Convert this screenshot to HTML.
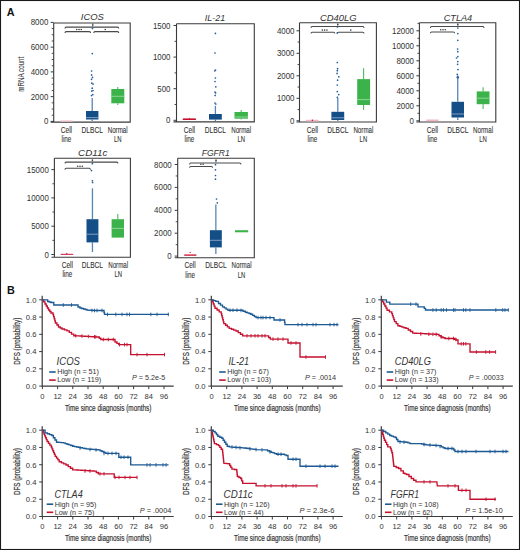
<!DOCTYPE html><html><head><meta charset="utf-8"><style>html,body{margin:0;padding:0;background:#fff;}svg{display:block;}text{font-family:"Liberation Sans",sans-serif;}.b{stroke:currentColor;stroke-width:0.1px;}.bb{stroke:currentColor;stroke-width:0.2px;}</style></head><body>
<svg width="520" height="550" viewBox="0 0 520 550">
<rect x="0" y="0" width="520" height="550" fill="#fff"/>
<rect x="0.5" y="0.5" width="519" height="549" fill="none" stroke="#1a1a1a" stroke-width="1.1"/>
<text x="6.8" y="16.0" font-size="10.8" text-anchor="start" font-weight="bold" fill="#111" color="#111">A</text>
<text x="7.0" y="293.6" font-size="10.8" text-anchor="start" font-weight="bold" fill="#111" color="#111">B</text>
<text transform="translate(24.3,74.2) rotate(-90)" font-size="8.2" text-anchor="middle" textLength="35" lengthAdjust="spacingAndGlyphs" class="b" fill="#333" color="#333">mRNA count</text>
<path d="M53.7 23.0 H130.2 V122.1 H50.7 M53.7 23.0 V122.1" fill="none" stroke="#3a3a3a" stroke-width="1.1"/>
<line x1="50.7" y1="121.4" x2="53.7" y2="121.4" stroke="#3a3a3a" stroke-width="1"/>
<text x="48.3" y="124.4" font-size="8.6" text-anchor="end" textLength="4.4" lengthAdjust="spacingAndGlyphs" fill="#333" color="#333">0</text>
<line x1="50.7" y1="96.65" x2="53.7" y2="96.65" stroke="#3a3a3a" stroke-width="1"/>
<text x="48.3" y="99.65" font-size="8.6" text-anchor="end" textLength="17.6" lengthAdjust="spacingAndGlyphs" fill="#333" color="#333">2000</text>
<line x1="50.7" y1="71.9" x2="53.7" y2="71.9" stroke="#3a3a3a" stroke-width="1"/>
<text x="48.3" y="74.9" font-size="8.6" text-anchor="end" textLength="17.6" lengthAdjust="spacingAndGlyphs" fill="#333" color="#333">4000</text>
<line x1="50.7" y1="47.15" x2="53.7" y2="47.15" stroke="#3a3a3a" stroke-width="1"/>
<text x="48.3" y="50.15" font-size="8.6" text-anchor="end" textLength="17.6" lengthAdjust="spacingAndGlyphs" fill="#333" color="#333">6000</text>
<line x1="50.7" y1="22.4" x2="53.7" y2="22.4" stroke="#3a3a3a" stroke-width="1"/>
<text x="48.3" y="25.4" font-size="8.6" text-anchor="end" textLength="17.6" lengthAdjust="spacingAndGlyphs" fill="#333" color="#333">8000</text>
<line x1="51.7" y1="115.21" x2="53.7" y2="115.21" stroke="#3a3a3a" stroke-width="0.9"/>
<line x1="51.7" y1="109.03" x2="53.7" y2="109.03" stroke="#3a3a3a" stroke-width="0.9"/>
<line x1="51.7" y1="102.84" x2="53.7" y2="102.84" stroke="#3a3a3a" stroke-width="0.9"/>
<line x1="51.7" y1="90.46" x2="53.7" y2="90.46" stroke="#3a3a3a" stroke-width="0.9"/>
<line x1="51.7" y1="84.28" x2="53.7" y2="84.28" stroke="#3a3a3a" stroke-width="0.9"/>
<line x1="51.7" y1="78.09" x2="53.7" y2="78.09" stroke="#3a3a3a" stroke-width="0.9"/>
<line x1="51.7" y1="65.71" x2="53.7" y2="65.71" stroke="#3a3a3a" stroke-width="0.9"/>
<line x1="51.7" y1="59.53" x2="53.7" y2="59.53" stroke="#3a3a3a" stroke-width="0.9"/>
<line x1="51.7" y1="53.34" x2="53.7" y2="53.34" stroke="#3a3a3a" stroke-width="0.9"/>
<line x1="51.7" y1="40.96" x2="53.7" y2="40.96" stroke="#3a3a3a" stroke-width="0.9"/>
<line x1="51.7" y1="34.78" x2="53.7" y2="34.78" stroke="#3a3a3a" stroke-width="0.9"/>
<line x1="51.7" y1="28.59" x2="53.7" y2="28.59" stroke="#3a3a3a" stroke-width="0.9"/>
<text x="92.35" y="20.3" font-size="9.1" text-anchor="middle" font-style="italic" textLength="23.1" lengthAdjust="spacingAndGlyphs" fill="#333" color="#333">ICOS</text>
<text x="66.4" y="132.7" font-size="9" text-anchor="middle" textLength="11.3" lengthAdjust="spacingAndGlyphs" fill="#333" color="#333" class="b">Cell</text>
<text x="66.4" y="142.0" font-size="9" text-anchor="middle" textLength="9.8" lengthAdjust="spacingAndGlyphs" fill="#333" color="#333" class="b">line</text>
<text x="92.2" y="132.7" font-size="9" text-anchor="middle" textLength="21.3" lengthAdjust="spacingAndGlyphs" fill="#333" color="#333" class="b">DLBCL</text>
<text x="117.7" y="132.7" font-size="9" text-anchor="middle" textLength="20" lengthAdjust="spacingAndGlyphs" fill="#333" color="#333" class="b">Normal</text>
<text x="117.7" y="142.0" font-size="9" text-anchor="middle" textLength="7.6" lengthAdjust="spacingAndGlyphs" fill="#333" color="#333" class="b">LN</text>
<path d="M65 28.5 Q65 27.1 66.2 27.1 H117.55 Q118.75 27.1 118.75 28.5" fill="none" stroke="#4a4a4a" stroke-width="1.05"/>
<line x1="92.75" y1="23.0" x2="92.75" y2="27.1" stroke="#777" stroke-width="0.8"/>
<circle cx="92.75" cy="25.05" r="0.8" fill="#444"/>
<path d="M65 33.0 Q65 31.6 66.2 31.6 H89.4 Q90.6 31.6 90.6 33.0" fill="none" stroke="#4a4a4a" stroke-width="1.05"/>
<circle cx="76.70" cy="29.50" r="0.8" fill="#3a3a3a"/>
<circle cx="79.00" cy="29.50" r="0.8" fill="#3a3a3a"/>
<circle cx="81.30" cy="29.50" r="0.8" fill="#3a3a3a"/>
<path d="M93.75 33.0 Q93.75 31.6 94.95 31.6 H117.55 Q118.75 31.6 118.75 33.0" fill="none" stroke="#4a4a4a" stroke-width="1.05"/>
<circle cx="105.25" cy="29.50" r="0.8" fill="#3a3a3a"/>
<rect x="60.1" y="120.35" width="12.6" height="1.3" fill="#f6c4d0"/>
<line x1="92.2" y1="98" x2="92.2" y2="111" stroke="#5686b6" stroke-width="1.3"/>
<line x1="92.2" y1="119.5" x2="92.2" y2="121" stroke="#5686b6" stroke-width="1.3"/>
<rect x="86" y="111" width="12.4" height="8.5" fill="#134e87"/>
<line x1="86" y1="117.6" x2="98.4" y2="117.6" stroke="#7f9fc2" stroke-width="1"/>
<line x1="117.8" y1="87" x2="117.8" y2="89" stroke="#3cb34a" stroke-width="1.0"/>
<line x1="117.8" y1="103.3" x2="117.8" y2="105" stroke="#3cb34a" stroke-width="1.0"/>
<rect x="111.3" y="89" width="13.0" height="14.3" fill="#3cb34a"/>
<line x1="111.3" y1="96.3" x2="124.3" y2="96.3" stroke="#8fd496" stroke-width="1"/>
<circle cx="92.5" cy="28.4" r="0.85" fill="#245d9c"/>
<circle cx="92.3" cy="53.6" r="0.85" fill="#245d9c"/>
<circle cx="91.6" cy="71" r="0.85" fill="#245d9c"/>
<circle cx="91.6" cy="74.9" r="0.85" fill="#245d9c"/>
<circle cx="92.5" cy="77.4" r="0.85" fill="#245d9c"/>
<circle cx="91.5" cy="79.3" r="0.85" fill="#245d9c"/>
<circle cx="91.8" cy="83.2" r="0.85" fill="#245d9c"/>
<circle cx="93" cy="84.1" r="0.85" fill="#245d9c"/>
<circle cx="92.2" cy="88.2" r="0.85" fill="#245d9c"/>
<circle cx="91.8" cy="91.1" r="0.85" fill="#245d9c"/>
<circle cx="93" cy="90.5" r="0.85" fill="#245d9c"/>
<circle cx="91.5" cy="95.6" r="0.85" fill="#245d9c"/>
<circle cx="92.8" cy="94.6" r="0.85" fill="#245d9c"/>
<path d="M176.5 23.7 H254.3 V121.9 H173.5 M176.5 23.7 V121.9" fill="none" stroke="#3a3a3a" stroke-width="1.1"/>
<line x1="173.5" y1="120.3" x2="176.5" y2="120.3" stroke="#3a3a3a" stroke-width="1"/>
<text x="170.5" y="123.3" font-size="8.6" text-anchor="end" textLength="4.4" lengthAdjust="spacingAndGlyphs" fill="#333" color="#333">0</text>
<line x1="173.5" y1="88.7" x2="176.5" y2="88.7" stroke="#3a3a3a" stroke-width="1"/>
<text x="170.5" y="91.7" font-size="8.6" text-anchor="end" textLength="13.2" lengthAdjust="spacingAndGlyphs" fill="#333" color="#333">500</text>
<line x1="173.5" y1="57.1" x2="176.5" y2="57.1" stroke="#3a3a3a" stroke-width="1"/>
<text x="170.5" y="60.1" font-size="8.6" text-anchor="end" textLength="17.6" lengthAdjust="spacingAndGlyphs" fill="#333" color="#333">1000</text>
<line x1="173.5" y1="25.5" x2="176.5" y2="25.5" stroke="#3a3a3a" stroke-width="1"/>
<text x="170.5" y="28.5" font-size="8.6" text-anchor="end" textLength="17.6" lengthAdjust="spacingAndGlyphs" fill="#333" color="#333">1500</text>
<line x1="174.5" y1="104.5" x2="176.5" y2="104.5" stroke="#3a3a3a" stroke-width="0.9"/>
<line x1="174.5" y1="72.9" x2="176.5" y2="72.9" stroke="#3a3a3a" stroke-width="0.9"/>
<line x1="174.5" y1="41.3" x2="176.5" y2="41.3" stroke="#3a3a3a" stroke-width="0.9"/>
<text x="214.95" y="20.6" font-size="9.1" text-anchor="middle" font-style="italic" textLength="20.3" lengthAdjust="spacingAndGlyphs" fill="#333" color="#333">IL-21</text>
<text x="189.4" y="132.5" font-size="9" text-anchor="middle" textLength="11.3" lengthAdjust="spacingAndGlyphs" fill="#333" color="#333" class="b">Cell</text>
<text x="189.4" y="141.8" font-size="9" text-anchor="middle" textLength="9.8" lengthAdjust="spacingAndGlyphs" fill="#333" color="#333" class="b">line</text>
<text x="215.4" y="132.5" font-size="9" text-anchor="middle" textLength="21.3" lengthAdjust="spacingAndGlyphs" fill="#333" color="#333" class="b">DLBCL</text>
<text x="241.2" y="132.5" font-size="9" text-anchor="middle" textLength="20" lengthAdjust="spacingAndGlyphs" fill="#333" color="#333" class="b">Normal</text>
<text x="241.2" y="141.8" font-size="9" text-anchor="middle" textLength="7.6" lengthAdjust="spacingAndGlyphs" fill="#333" color="#333" class="b">LN</text>
<rect x="182.8" y="118.4" width="13.1" height="1.6" fill="#c8102e"/>
<circle cx="189.4" cy="118.3" r="0.55" fill="#c8102e"/>
<line x1="215.4" y1="105.9" x2="215.4" y2="114" stroke="#5686b6" stroke-width="1.3"/>
<line x1="215.4" y1="119.6" x2="215.4" y2="121" stroke="#5686b6" stroke-width="1.3"/>
<rect x="209" y="114" width="12.8" height="5.6" fill="#134e87"/>
<line x1="241.2" y1="110" x2="241.2" y2="112" stroke="#3cb34a" stroke-width="1.0"/>
<line x1="241.2" y1="118.7" x2="241.2" y2="119.5" stroke="#3cb34a" stroke-width="1.0"/>
<rect x="234.5" y="112" width="13.4" height="6.7" fill="#3cb34a"/>
<line x1="234.5" y1="117" x2="247.9" y2="117" stroke="#8fd496" stroke-width="1"/>
<circle cx="215.4" cy="33.4" r="0.85" fill="#245d9c"/>
<circle cx="215" cy="53" r="0.85" fill="#245d9c"/>
<circle cx="215.5" cy="70" r="0.85" fill="#245d9c"/>
<circle cx="214.8" cy="70.8" r="0.85" fill="#245d9c"/>
<circle cx="215.4" cy="78" r="0.85" fill="#245d9c"/>
<circle cx="215" cy="81.5" r="0.85" fill="#245d9c"/>
<circle cx="215.8" cy="86.8" r="0.85" fill="#245d9c"/>
<circle cx="215" cy="92" r="0.85" fill="#245d9c"/>
<circle cx="215.6" cy="92.8" r="0.85" fill="#245d9c"/>
<circle cx="215.2" cy="95.4" r="0.85" fill="#245d9c"/>
<circle cx="215" cy="103" r="0.85" fill="#245d9c"/>
<circle cx="215.8" cy="104" r="0.85" fill="#245d9c"/>
<path d="M299.5 22.7 H376.4 V122.0 H296.5 M299.5 22.7 V122.0" fill="none" stroke="#3a3a3a" stroke-width="1.1"/>
<line x1="296.5" y1="120.8" x2="299.5" y2="120.8" stroke="#3a3a3a" stroke-width="1"/>
<text x="294.5" y="123.8" font-size="8.6" text-anchor="end" textLength="4.4" lengthAdjust="spacingAndGlyphs" fill="#333" color="#333">0</text>
<line x1="296.5" y1="98.3" x2="299.5" y2="98.3" stroke="#3a3a3a" stroke-width="1"/>
<text x="294.5" y="101.3" font-size="8.6" text-anchor="end" textLength="17.6" lengthAdjust="spacingAndGlyphs" fill="#333" color="#333">1000</text>
<line x1="296.5" y1="75.8" x2="299.5" y2="75.8" stroke="#3a3a3a" stroke-width="1"/>
<text x="294.5" y="78.8" font-size="8.6" text-anchor="end" textLength="17.6" lengthAdjust="spacingAndGlyphs" fill="#333" color="#333">2000</text>
<line x1="296.5" y1="53.3" x2="299.5" y2="53.3" stroke="#3a3a3a" stroke-width="1"/>
<text x="294.5" y="56.3" font-size="8.6" text-anchor="end" textLength="17.6" lengthAdjust="spacingAndGlyphs" fill="#333" color="#333">3000</text>
<line x1="296.5" y1="30.8" x2="299.5" y2="30.8" stroke="#3a3a3a" stroke-width="1"/>
<text x="294.5" y="33.8" font-size="8.6" text-anchor="end" textLength="17.6" lengthAdjust="spacingAndGlyphs" fill="#333" color="#333">4000</text>
<line x1="297.5" y1="109.55" x2="299.5" y2="109.55" stroke="#3a3a3a" stroke-width="0.9"/>
<line x1="297.5" y1="87.05" x2="299.5" y2="87.05" stroke="#3a3a3a" stroke-width="0.9"/>
<line x1="297.5" y1="64.55" x2="299.5" y2="64.55" stroke="#3a3a3a" stroke-width="0.9"/>
<line x1="297.5" y1="42.05" x2="299.5" y2="42.05" stroke="#3a3a3a" stroke-width="0.9"/>
<text x="338.25" y="20.5" font-size="9.1" text-anchor="middle" font-style="italic" textLength="36.7" lengthAdjust="spacingAndGlyphs" fill="#333" color="#333">CD40LG</text>
<text x="312.4" y="132.6" font-size="9" text-anchor="middle" textLength="11.3" lengthAdjust="spacingAndGlyphs" fill="#333" color="#333" class="b">Cell</text>
<text x="312.4" y="141.9" font-size="9" text-anchor="middle" textLength="9.8" lengthAdjust="spacingAndGlyphs" fill="#333" color="#333" class="b">line</text>
<text x="337.8" y="132.6" font-size="9" text-anchor="middle" textLength="21.3" lengthAdjust="spacingAndGlyphs" fill="#333" color="#333" class="b">DLBCL</text>
<text x="363.4" y="132.6" font-size="9" text-anchor="middle" textLength="20" lengthAdjust="spacingAndGlyphs" fill="#333" color="#333" class="b">Normal</text>
<text x="363.4" y="141.9" font-size="9" text-anchor="middle" textLength="7.6" lengthAdjust="spacingAndGlyphs" fill="#333" color="#333" class="b">LN</text>
<path d="M311 27.9 Q311 26.5 312.2 26.5 H362.8 Q364 26.5 364 27.9" fill="none" stroke="#4a4a4a" stroke-width="1.05"/>
<line x1="337.8" y1="22.7" x2="337.8" y2="26.5" stroke="#777" stroke-width="0.8"/>
<circle cx="337.8" cy="24.60" r="0.8" fill="#444"/>
<path d="M311 33.6 Q311 32.2 312.2 32.2 H333.6 Q334.8 32.2 334.8 33.6" fill="none" stroke="#4a4a4a" stroke-width="1.05"/>
<circle cx="322.30" cy="30.10" r="0.8" fill="#3a3a3a"/>
<circle cx="324.60" cy="30.10" r="0.8" fill="#3a3a3a"/>
<circle cx="326.90" cy="30.10" r="0.8" fill="#3a3a3a"/>
<path d="M337.3 33.6 Q337.3 32.2 338.5 32.2 H362.8 Q364 32.2 364 33.6" fill="none" stroke="#4a4a4a" stroke-width="1.05"/>
<circle cx="350.80" cy="30.10" r="0.8" fill="#3a3a3a"/>
<rect x="306" y="119.8" width="12.5" height="1.6" fill="#f4b6c4"/>
<circle cx="312.4" cy="120.3" r="0.8" fill="#c8102e"/>
<line x1="337.8" y1="98" x2="337.8" y2="111.8" stroke="#5686b6" stroke-width="1.3"/>
<line x1="337.8" y1="120" x2="337.8" y2="121" stroke="#5686b6" stroke-width="1.3"/>
<rect x="331.4" y="111.8" width="12.8" height="8.2" fill="#134e87"/>
<line x1="331.4" y1="117.8" x2="344.2" y2="117.8" stroke="#7f9fc2" stroke-width="1"/>
<line x1="363.65" y1="68.2" x2="363.65" y2="79.1" stroke="#3cb34a" stroke-width="1.0"/>
<line x1="363.65" y1="105" x2="363.65" y2="109.9" stroke="#3cb34a" stroke-width="1.0"/>
<rect x="357.2" y="79.1" width="12.9" height="25.9" fill="#3cb34a"/>
<line x1="357.2" y1="99.6" x2="370.1" y2="99.6" stroke="#8fd496" stroke-width="1"/>
<circle cx="337.5" cy="27" r="0.85" fill="#245d9c"/>
<circle cx="337.3" cy="32.9" r="0.85" fill="#245d9c"/>
<circle cx="337.3" cy="62.5" r="0.85" fill="#245d9c"/>
<circle cx="337.6" cy="68.7" r="0.85" fill="#245d9c"/>
<circle cx="337.3" cy="70.7" r="0.85" fill="#245d9c"/>
<circle cx="337.1" cy="73.4" r="0.85" fill="#245d9c"/>
<circle cx="338.8" cy="76.8" r="0.85" fill="#245d9c"/>
<circle cx="337.6" cy="80.2" r="0.85" fill="#245d9c"/>
<circle cx="337.3" cy="85" r="0.85" fill="#245d9c"/>
<circle cx="337.3" cy="91.6" r="0.85" fill="#245d9c"/>
<circle cx="338.8" cy="94.6" r="0.85" fill="#245d9c"/>
<circle cx="337.3" cy="97.3" r="0.85" fill="#245d9c"/>
<path d="M419.4 22.7 H495.8 V122.0 H416.4 M419.4 22.7 V122.0" fill="none" stroke="#3a3a3a" stroke-width="1.1"/>
<line x1="416.4" y1="120.8" x2="419.4" y2="120.8" stroke="#3a3a3a" stroke-width="1"/>
<text x="414" y="123.8" font-size="8.6" text-anchor="end" textLength="4.4" lengthAdjust="spacingAndGlyphs" fill="#333" color="#333">0</text>
<line x1="416.4" y1="105.8" x2="419.4" y2="105.8" stroke="#3a3a3a" stroke-width="1"/>
<text x="414" y="108.8" font-size="8.6" text-anchor="end" textLength="17.6" lengthAdjust="spacingAndGlyphs" fill="#333" color="#333">2000</text>
<line x1="416.4" y1="90.8" x2="419.4" y2="90.8" stroke="#3a3a3a" stroke-width="1"/>
<text x="414" y="93.8" font-size="8.6" text-anchor="end" textLength="17.6" lengthAdjust="spacingAndGlyphs" fill="#333" color="#333">4000</text>
<line x1="416.4" y1="75.8" x2="419.4" y2="75.8" stroke="#3a3a3a" stroke-width="1"/>
<text x="414" y="78.8" font-size="8.6" text-anchor="end" textLength="17.6" lengthAdjust="spacingAndGlyphs" fill="#333" color="#333">6000</text>
<line x1="416.4" y1="60.8" x2="419.4" y2="60.8" stroke="#3a3a3a" stroke-width="1"/>
<text x="414" y="63.8" font-size="8.6" text-anchor="end" textLength="17.6" lengthAdjust="spacingAndGlyphs" fill="#333" color="#333">8000</text>
<line x1="416.4" y1="45.8" x2="419.4" y2="45.8" stroke="#3a3a3a" stroke-width="1"/>
<text x="414" y="48.8" font-size="8.6" text-anchor="end" textLength="22.0" lengthAdjust="spacingAndGlyphs" fill="#333" color="#333">10000</text>
<line x1="416.4" y1="30.8" x2="419.4" y2="30.8" stroke="#3a3a3a" stroke-width="1"/>
<text x="414" y="33.8" font-size="8.6" text-anchor="end" textLength="22.0" lengthAdjust="spacingAndGlyphs" fill="#333" color="#333">12000</text>
<line x1="417.4" y1="113.3" x2="419.4" y2="113.3" stroke="#3a3a3a" stroke-width="0.9"/>
<line x1="417.4" y1="98.3" x2="419.4" y2="98.3" stroke="#3a3a3a" stroke-width="0.9"/>
<line x1="417.4" y1="83.3" x2="419.4" y2="83.3" stroke="#3a3a3a" stroke-width="0.9"/>
<line x1="417.4" y1="68.3" x2="419.4" y2="68.3" stroke="#3a3a3a" stroke-width="0.9"/>
<line x1="417.4" y1="53.3" x2="419.4" y2="53.3" stroke="#3a3a3a" stroke-width="0.9"/>
<line x1="417.4" y1="38.3" x2="419.4" y2="38.3" stroke="#3a3a3a" stroke-width="0.9"/>
<line x1="417.4" y1="23.3" x2="419.4" y2="23.3" stroke="#3a3a3a" stroke-width="0.9"/>
<text x="457.95" y="20.6" font-size="9.1" text-anchor="middle" font-style="italic" textLength="28.5" lengthAdjust="spacingAndGlyphs" fill="#333" color="#333">CTLA4</text>
<text x="432.4" y="132.6" font-size="9" text-anchor="middle" textLength="11.3" lengthAdjust="spacingAndGlyphs" fill="#333" color="#333" class="b">Cell</text>
<text x="432.4" y="141.9" font-size="9" text-anchor="middle" textLength="9.8" lengthAdjust="spacingAndGlyphs" fill="#333" color="#333" class="b">line</text>
<text x="457.8" y="132.6" font-size="9" text-anchor="middle" textLength="21.3" lengthAdjust="spacingAndGlyphs" fill="#333" color="#333" class="b">DLBCL</text>
<text x="483.1" y="132.6" font-size="9" text-anchor="middle" textLength="20" lengthAdjust="spacingAndGlyphs" fill="#333" color="#333" class="b">Normal</text>
<text x="483.1" y="141.9" font-size="9" text-anchor="middle" textLength="7.6" lengthAdjust="spacingAndGlyphs" fill="#333" color="#333" class="b">LN</text>
<path d="M430.4 27.9 Q430.4 26.5 431.6 26.5 H482.8 Q484 26.5 484 27.9" fill="none" stroke="#4a4a4a" stroke-width="1.05"/>
<line x1="457.8" y1="22.7" x2="457.8" y2="26.5" stroke="#777" stroke-width="0.8"/>
<circle cx="457.8" cy="24.60" r="0.8" fill="#444"/>
<path d="M430.4 33.3 Q430.4 31.9 431.6 31.9 H453.4 Q454.6 31.9 454.6 33.3" fill="none" stroke="#4a4a4a" stroke-width="1.05"/>
<circle cx="440.70" cy="29.80" r="0.8" fill="#3a3a3a"/>
<circle cx="443.00" cy="29.80" r="0.8" fill="#3a3a3a"/>
<circle cx="445.30" cy="29.80" r="0.8" fill="#3a3a3a"/>
<rect x="426.3" y="119.5" width="12.2" height="1.6" fill="#f4b6c4"/>
<line x1="457.75" y1="77.5" x2="457.75" y2="101.8" stroke="#5686b6" stroke-width="1.3"/>
<line x1="457.75" y1="117.5" x2="457.75" y2="120" stroke="#5686b6" stroke-width="1.3"/>
<rect x="451.5" y="101.8" width="12.5" height="15.7" fill="#134e87"/>
<line x1="451.5" y1="114" x2="464" y2="114" stroke="#7f9fc2" stroke-width="1"/>
<line x1="483.1" y1="87.3" x2="483.1" y2="91.4" stroke="#3cb34a" stroke-width="1.0"/>
<line x1="483.1" y1="104.2" x2="483.1" y2="109" stroke="#3cb34a" stroke-width="1.0"/>
<rect x="476.7" y="91.4" width="12.8" height="12.8" fill="#3cb34a"/>
<line x1="476.7" y1="98.2" x2="489.5" y2="98.2" stroke="#8fd496" stroke-width="1"/>
<circle cx="457.8" cy="76.3" r="0.85" fill="#245d9c"/>
<circle cx="457.2" cy="77.3" r="0.85" fill="#245d9c"/>
<circle cx="458.3" cy="77.6" r="0.85" fill="#245d9c"/>
<circle cx="457.8" cy="28" r="0.85" fill="#245d9c"/>
<circle cx="457.8" cy="33.6" r="0.85" fill="#245d9c"/>
<circle cx="457.8" cy="40.3" r="0.85" fill="#245d9c"/>
<circle cx="457.6" cy="49" r="0.85" fill="#245d9c"/>
<circle cx="457.8" cy="51.7" r="0.85" fill="#245d9c"/>
<circle cx="457.8" cy="56.6" r="0.85" fill="#245d9c"/>
<circle cx="456.5" cy="58" r="0.85" fill="#245d9c"/>
<circle cx="457.8" cy="61.6" r="0.85" fill="#245d9c"/>
<circle cx="457.6" cy="64.3" r="0.85" fill="#245d9c"/>
<circle cx="458" cy="69.6" r="0.85" fill="#245d9c"/>
<circle cx="457.3" cy="74.4" r="0.85" fill="#245d9c"/>
<path d="M54.4 158.3 H130.4 V257.3 H51.4 M54.4 158.3 V257.3" fill="none" stroke="#3a3a3a" stroke-width="1.1"/>
<line x1="51.4" y1="254.5" x2="54.4" y2="254.5" stroke="#3a3a3a" stroke-width="1"/>
<text x="48.8" y="257.5" font-size="8.6" text-anchor="end" textLength="4.4" lengthAdjust="spacingAndGlyphs" fill="#333" color="#333">0</text>
<line x1="51.4" y1="226.2" x2="54.4" y2="226.2" stroke="#3a3a3a" stroke-width="1"/>
<text x="48.8" y="229.2" font-size="8.6" text-anchor="end" textLength="17.6" lengthAdjust="spacingAndGlyphs" fill="#333" color="#333">5000</text>
<line x1="51.4" y1="197.9" x2="54.4" y2="197.9" stroke="#3a3a3a" stroke-width="1"/>
<text x="48.8" y="200.9" font-size="8.6" text-anchor="end" textLength="22.0" lengthAdjust="spacingAndGlyphs" fill="#333" color="#333">10000</text>
<line x1="51.4" y1="169.6" x2="54.4" y2="169.6" stroke="#3a3a3a" stroke-width="1"/>
<text x="48.8" y="172.6" font-size="8.6" text-anchor="end" textLength="22.0" lengthAdjust="spacingAndGlyphs" fill="#333" color="#333">15000</text>
<line x1="52.4" y1="240.35" x2="54.4" y2="240.35" stroke="#3a3a3a" stroke-width="0.9"/>
<line x1="52.4" y1="212.05" x2="54.4" y2="212.05" stroke="#3a3a3a" stroke-width="0.9"/>
<line x1="52.4" y1="183.75" x2="54.4" y2="183.75" stroke="#3a3a3a" stroke-width="0.9"/>
<text x="92.7" y="155.8" font-size="9.1" text-anchor="middle" font-style="italic" textLength="29.2" lengthAdjust="spacingAndGlyphs" fill="#333" color="#333">CD11c</text>
<text x="67.3" y="267.9" font-size="9" text-anchor="middle" textLength="11.3" lengthAdjust="spacingAndGlyphs" fill="#333" color="#333" class="b">Cell</text>
<text x="67.3" y="277.2" font-size="9" text-anchor="middle" textLength="9.8" lengthAdjust="spacingAndGlyphs" fill="#333" color="#333" class="b">line</text>
<text x="92.4" y="267.9" font-size="9" text-anchor="middle" textLength="21.3" lengthAdjust="spacingAndGlyphs" fill="#333" color="#333" class="b">DLBCL</text>
<text x="118.2" y="267.9" font-size="9" text-anchor="middle" textLength="20" lengthAdjust="spacingAndGlyphs" fill="#333" color="#333" class="b">Normal</text>
<text x="118.2" y="277.2" font-size="9" text-anchor="middle" textLength="7.6" lengthAdjust="spacingAndGlyphs" fill="#333" color="#333" class="b">LN</text>
<path d="M65 163.5 Q65 162.1 66.2 162.1 H116.7 Q117.9 162.1 117.9 163.5" fill="none" stroke="#4a4a4a" stroke-width="1.05"/>
<line x1="92.4" y1="158.3" x2="92.4" y2="162.1" stroke="#777" stroke-width="0.8"/>
<circle cx="92.4" cy="160.20" r="0.8" fill="#444"/>
<path d="M65 169.7 Q65 168.3 66.2 168.3 H89.2 Q90.4 168.3 90.4 169.7" fill="none" stroke="#4a4a4a" stroke-width="1.05"/>
<circle cx="77.70" cy="166.20" r="0.8" fill="#3a3a3a"/>
<circle cx="80.00" cy="166.20" r="0.8" fill="#3a3a3a"/>
<circle cx="82.30" cy="166.20" r="0.8" fill="#3a3a3a"/>
<rect x="60.6" y="253.8" width="12.7" height="1.2" fill="#d2405f"/>
<circle cx="66.8" cy="253.4" r="0.6" fill="#c8102e"/>
<line x1="92.45" y1="188.3" x2="92.45" y2="219.2" stroke="#5686b6" stroke-width="1.3"/>
<line x1="92.45" y1="242.4" x2="92.45" y2="252" stroke="#5686b6" stroke-width="1.3"/>
<rect x="86.5" y="219.2" width="11.9" height="23.2" fill="#134e87"/>
<line x1="86.5" y1="234.2" x2="98.4" y2="234.2" stroke="#7f9fc2" stroke-width="1"/>
<line x1="117.8" y1="213.9" x2="117.8" y2="219.2" stroke="#3cb34a" stroke-width="1.0"/>
<line x1="117.8" y1="237.6" x2="117.8" y2="238" stroke="#3cb34a" stroke-width="1.0"/>
<rect x="111.6" y="219.2" width="12.4" height="18.4" fill="#3cb34a"/>
<line x1="111.6" y1="228.4" x2="124" y2="228.4" stroke="#8fd496" stroke-width="1"/>
<circle cx="92.4" cy="163.7" r="0.85" fill="#245d9c"/>
<circle cx="91.5" cy="170.6" r="0.85" fill="#245d9c"/>
<circle cx="92.4" cy="180.8" r="0.85" fill="#245d9c"/>
<circle cx="92.6" cy="182.5" r="0.85" fill="#245d9c"/>
<path d="M177.7 158.3 H254.3 V257.7 H174.7 M177.7 158.3 V257.7" fill="none" stroke="#3a3a3a" stroke-width="1.1"/>
<line x1="174.7" y1="256.1" x2="177.7" y2="256.1" stroke="#3a3a3a" stroke-width="1"/>
<text x="171.7" y="259.1" font-size="8.6" text-anchor="end" textLength="4.4" lengthAdjust="spacingAndGlyphs" fill="#333" color="#333">0</text>
<line x1="174.7" y1="233.2" x2="177.7" y2="233.2" stroke="#3a3a3a" stroke-width="1"/>
<text x="171.7" y="236.2" font-size="8.6" text-anchor="end" textLength="17.6" lengthAdjust="spacingAndGlyphs" fill="#333" color="#333">2000</text>
<line x1="174.7" y1="210.3" x2="177.7" y2="210.3" stroke="#3a3a3a" stroke-width="1"/>
<text x="171.7" y="213.3" font-size="8.6" text-anchor="end" textLength="17.6" lengthAdjust="spacingAndGlyphs" fill="#333" color="#333">4000</text>
<line x1="174.7" y1="187.4" x2="177.7" y2="187.4" stroke="#3a3a3a" stroke-width="1"/>
<text x="171.7" y="190.4" font-size="8.6" text-anchor="end" textLength="17.6" lengthAdjust="spacingAndGlyphs" fill="#333" color="#333">6000</text>
<line x1="174.7" y1="164.5" x2="177.7" y2="164.5" stroke="#3a3a3a" stroke-width="1"/>
<text x="171.7" y="167.5" font-size="8.6" text-anchor="end" textLength="17.6" lengthAdjust="spacingAndGlyphs" fill="#333" color="#333">8000</text>
<line x1="175.7" y1="244.65" x2="177.7" y2="244.65" stroke="#3a3a3a" stroke-width="0.9"/>
<line x1="175.7" y1="221.75" x2="177.7" y2="221.75" stroke="#3a3a3a" stroke-width="0.9"/>
<line x1="175.7" y1="198.85" x2="177.7" y2="198.85" stroke="#3a3a3a" stroke-width="0.9"/>
<line x1="175.7" y1="175.95" x2="177.7" y2="175.95" stroke="#3a3a3a" stroke-width="0.9"/>
<text x="215.7" y="155.8" font-size="9.1" text-anchor="middle" font-style="italic" textLength="28" lengthAdjust="spacingAndGlyphs" fill="#333" color="#333">FGFR1</text>
<text x="190.1" y="268.3" font-size="9" text-anchor="middle" textLength="11.3" lengthAdjust="spacingAndGlyphs" fill="#333" color="#333" class="b">Cell</text>
<text x="190.1" y="277.6" font-size="9" text-anchor="middle" textLength="9.8" lengthAdjust="spacingAndGlyphs" fill="#333" color="#333" class="b">line</text>
<text x="216" y="268.3" font-size="9" text-anchor="middle" textLength="21.3" lengthAdjust="spacingAndGlyphs" fill="#333" color="#333" class="b">DLBCL</text>
<text x="241.6" y="268.3" font-size="9" text-anchor="middle" textLength="20" lengthAdjust="spacingAndGlyphs" fill="#333" color="#333" class="b">Normal</text>
<text x="241.6" y="277.6" font-size="9" text-anchor="middle" textLength="7.6" lengthAdjust="spacingAndGlyphs" fill="#333" color="#333" class="b">LN</text>
<path d="M189.6 164.4 Q189.6 163 190.8 163 H239.8 Q241 163 241 164.4" fill="none" stroke="#4a4a4a" stroke-width="1.05"/>
<line x1="216" y1="158.3" x2="216" y2="163" stroke="#777" stroke-width="0.8"/>
<circle cx="216" cy="160.65" r="0.8" fill="#444"/>
<path d="M189.6 167.8 Q189.6 166.4 190.8 166.4 H211.4 Q212.6 166.4 212.6 167.8" fill="none" stroke="#4a4a4a" stroke-width="1.05"/>
<circle cx="200.85" cy="164.30" r="0.8" fill="#3a3a3a"/>
<circle cx="203.15" cy="164.30" r="0.8" fill="#3a3a3a"/>
<rect x="184.2" y="254.45" width="12.2" height="1.3" fill="#c8102e"/>
<circle cx="190.2" cy="252.4" r="0.6" fill="#c8102e"/>
<line x1="215.85" y1="204.6" x2="215.85" y2="230.2" stroke="#5686b6" stroke-width="1.3"/>
<line x1="215.85" y1="247.4" x2="215.85" y2="254" stroke="#5686b6" stroke-width="1.3"/>
<rect x="209.9" y="230.2" width="11.9" height="17.2" fill="#134e87"/>
<line x1="209.9" y1="240.3" x2="221.8" y2="240.3" stroke="#7f9fc2" stroke-width="1"/>
<rect x="235" y="230.2" width="13.2" height="2.1" fill="#3cb34a"/>
<circle cx="215.5" cy="164.7" r="0.85" fill="#245d9c"/>
<circle cx="215.5" cy="169.8" r="0.85" fill="#245d9c"/>
<circle cx="215.5" cy="175.5" r="0.85" fill="#245d9c"/>
<circle cx="215.5" cy="179.2" r="0.85" fill="#245d9c"/>
<circle cx="216.5" cy="199" r="0.85" fill="#245d9c"/>
<circle cx="217.3" cy="202.8" r="0.85" fill="#245d9c"/>
<path d="M42.2 295.8 V386.1 H173.7" fill="none" stroke="#3a3a3a" stroke-width="1.2"/>
<line x1="39.2" y1="299.8" x2="42.2" y2="299.8" stroke="#3a3a3a" stroke-width="1"/>
<text x="36.4" y="302.7" font-size="7.8" text-anchor="end" textLength="10.6" lengthAdjust="spacingAndGlyphs" fill="#333" color="#333">1.0</text>
<line x1="39.2" y1="317.06" x2="42.2" y2="317.06" stroke="#3a3a3a" stroke-width="1"/>
<text x="36.4" y="319.96" font-size="7.8" text-anchor="end" textLength="10.6" lengthAdjust="spacingAndGlyphs" fill="#333" color="#333">0.8</text>
<line x1="39.2" y1="334.32" x2="42.2" y2="334.32" stroke="#3a3a3a" stroke-width="1"/>
<text x="36.4" y="337.22" font-size="7.8" text-anchor="end" textLength="10.6" lengthAdjust="spacingAndGlyphs" fill="#333" color="#333">0.6</text>
<line x1="39.2" y1="351.58" x2="42.2" y2="351.58" stroke="#3a3a3a" stroke-width="1"/>
<text x="36.4" y="354.48" font-size="7.8" text-anchor="end" textLength="10.6" lengthAdjust="spacingAndGlyphs" fill="#333" color="#333">0.4</text>
<line x1="39.2" y1="368.84" x2="42.2" y2="368.84" stroke="#3a3a3a" stroke-width="1"/>
<text x="36.4" y="371.74" font-size="7.8" text-anchor="end" textLength="10.6" lengthAdjust="spacingAndGlyphs" fill="#333" color="#333">0.2</text>
<line x1="39.2" y1="386.1" x2="42.2" y2="386.1" stroke="#3a3a3a" stroke-width="1"/>
<text x="36.4" y="389.0" font-size="7.8" text-anchor="end" textLength="10.6" lengthAdjust="spacingAndGlyphs" fill="#333" color="#333">0.0</text>
<line x1="42.4" y1="386.1" x2="42.4" y2="389.1" stroke="#3a3a3a" stroke-width="1"/>
<text x="42.4" y="398.5" font-size="7.6" text-anchor="middle" textLength="4.2" lengthAdjust="spacingAndGlyphs" fill="#333" color="#333">0</text>
<line x1="57.6" y1="386.1" x2="57.6" y2="389.1" stroke="#3a3a3a" stroke-width="1"/>
<text x="57.6" y="398.5" font-size="7.6" text-anchor="middle" textLength="8.4" lengthAdjust="spacingAndGlyphs" fill="#333" color="#333">12</text>
<line x1="72.8" y1="386.1" x2="72.8" y2="389.1" stroke="#3a3a3a" stroke-width="1"/>
<text x="72.8" y="398.5" font-size="7.6" text-anchor="middle" textLength="8.4" lengthAdjust="spacingAndGlyphs" fill="#333" color="#333">24</text>
<line x1="88.0" y1="386.1" x2="88.0" y2="389.1" stroke="#3a3a3a" stroke-width="1"/>
<text x="88.0" y="398.5" font-size="7.6" text-anchor="middle" textLength="8.4" lengthAdjust="spacingAndGlyphs" fill="#333" color="#333">36</text>
<line x1="103.2" y1="386.1" x2="103.2" y2="389.1" stroke="#3a3a3a" stroke-width="1"/>
<text x="103.2" y="398.5" font-size="7.6" text-anchor="middle" textLength="8.4" lengthAdjust="spacingAndGlyphs" fill="#333" color="#333">48</text>
<line x1="118.4" y1="386.1" x2="118.4" y2="389.1" stroke="#3a3a3a" stroke-width="1"/>
<text x="118.4" y="398.5" font-size="7.6" text-anchor="middle" textLength="8.4" lengthAdjust="spacingAndGlyphs" fill="#333" color="#333">60</text>
<line x1="133.6" y1="386.1" x2="133.6" y2="389.1" stroke="#3a3a3a" stroke-width="1"/>
<text x="133.6" y="398.5" font-size="7.6" text-anchor="middle" textLength="8.4" lengthAdjust="spacingAndGlyphs" fill="#333" color="#333">72</text>
<line x1="148.8" y1="386.1" x2="148.8" y2="389.1" stroke="#3a3a3a" stroke-width="1"/>
<text x="148.8" y="398.5" font-size="7.6" text-anchor="middle" textLength="8.4" lengthAdjust="spacingAndGlyphs" fill="#333" color="#333">84</text>
<line x1="164.0" y1="386.1" x2="164.0" y2="389.1" stroke="#3a3a3a" stroke-width="1"/>
<text x="164.0" y="398.5" font-size="7.6" text-anchor="middle" textLength="8.4" lengthAdjust="spacingAndGlyphs" fill="#333" color="#333">96</text>
<text x="108.2" y="410.5" font-size="8.7" text-anchor="middle" textLength="86.5" lengthAdjust="spacingAndGlyphs" fill="#333" color="#333" class="bb">Time since diagnosis (months)</text>
<text transform="translate(19.9,341.2) rotate(-90)" font-size="8.4" text-anchor="middle" textLength="47" lengthAdjust="spacingAndGlyphs" class="bb" fill="#333" color="#333">DFS (probability)</text>
<path d="M42.40 299.80 L43.70 299.80 L43.70 301.90 L45.00 301.90 L45.00 304.00 L46.17 304.00 L46.17 306.00 L47.33 306.00 L47.33 308.00 L48.50 308.00 L48.50 310.00 L49.75 310.00 L49.75 311.50 L51.00 311.50 L51.00 313.00 L53.00 313.00 L53.00 314.50 L53.60 314.50 L53.60 316.62 L54.20 316.62 L54.20 318.75 L54.80 318.75 L54.80 320.88 L55.40 320.88 L55.40 323.00 L56.95 323.00 L56.95 325.00 L58.50 325.00 L58.50 327.00 L60.25 327.00 L60.25 328.00 L62.00 328.00 L62.00 329.00 L64.50 329.00 L64.50 329.90 L67.00 329.90 L67.00 330.80 L69.27 330.80 L69.27 332.43 L71.53 332.43 L71.53 334.07 L73.80 334.07 L73.80 335.70 L75.83 335.70 L75.83 335.80 L77.85 335.80 L77.85 335.90 L79.88 335.90 L79.88 336.00 L81.90 336.00 L81.90 336.10 L83.92 336.10 L83.92 336.20 L85.95 336.20 L85.95 336.30 L87.97 336.30 L87.97 336.40 L90.00 336.40 L90.00 336.50 L97.70 337.00 L99.25 337.00 L99.25 338.25 L100.80 338.25 L100.80 339.50 L113.50 339.50 L115.00 339.50 L115.00 342.00 L116.90 342.00 L116.90 343.30 L118.80 343.30 L118.80 344.60 L130.70 344.60 L130.70 354.60 L165.00 354.60" fill="none" stroke="#c5112f" stroke-width="1.35" stroke-linejoin="miter"/>
<path d="M42.40 299.80 L46.00 299.80 L47.70 299.80 L47.70 301.50 L49.35 301.50 L49.35 302.00 L51.00 302.00 L51.00 302.50 L53.80 302.50 L53.80 305.00 L75.40 305.00 L78.00 305.00 L78.00 307.00 L80.00 307.00 L80.00 308.00 L81.75 308.00 L81.75 308.50 L83.50 308.50 L83.50 309.00 L85.25 309.00 L85.25 309.50 L87.00 309.50 L87.00 310.00 L95.00 310.50 L103.50 310.50 L104.00 310.50 L104.00 312.45 L104.50 312.45 L104.50 314.40 L168.80 314.40" fill="none" stroke="#1b5a94" stroke-width="1.35" stroke-linejoin="miter"/>
<line x1="75.8" y1="334.0" x2="75.8" y2="337.6" stroke="#c5112f" stroke-width="0.9"/>
<line x1="82" y1="334.3" x2="82" y2="337.9" stroke="#c5112f" stroke-width="0.9"/>
<line x1="88.3" y1="334.6" x2="88.3" y2="338.2" stroke="#c5112f" stroke-width="0.9"/>
<line x1="94.5" y1="335.0" x2="94.5" y2="338.6" stroke="#c5112f" stroke-width="0.9"/>
<line x1="95.8" y1="335.1" x2="95.8" y2="338.7" stroke="#c5112f" stroke-width="0.9"/>
<line x1="103.3" y1="337.7" x2="103.3" y2="341.3" stroke="#c5112f" stroke-width="0.9"/>
<line x1="108.3" y1="337.7" x2="108.3" y2="341.3" stroke="#c5112f" stroke-width="0.9"/>
<line x1="113.3" y1="337.7" x2="113.3" y2="341.3" stroke="#c5112f" stroke-width="0.9"/>
<line x1="119.5" y1="342.8" x2="119.5" y2="346.4" stroke="#c5112f" stroke-width="0.9"/>
<line x1="124.5" y1="342.8" x2="124.5" y2="346.4" stroke="#c5112f" stroke-width="0.9"/>
<line x1="127" y1="342.8" x2="127" y2="346.4" stroke="#c5112f" stroke-width="0.9"/>
<line x1="137" y1="352.8" x2="137" y2="356.4" stroke="#c5112f" stroke-width="0.9"/>
<line x1="147" y1="352.8" x2="147" y2="356.4" stroke="#c5112f" stroke-width="0.9"/>
<line x1="164.5" y1="352.8" x2="164.5" y2="356.4" stroke="#c5112f" stroke-width="0.9"/>
<line x1="63.3" y1="303.2" x2="63.3" y2="306.8" stroke="#1b5a94" stroke-width="0.9"/>
<line x1="71.5" y1="303.2" x2="71.5" y2="306.8" stroke="#1b5a94" stroke-width="0.9"/>
<line x1="92" y1="308.7" x2="92" y2="312.3" stroke="#1b5a94" stroke-width="0.9"/>
<line x1="94.5" y1="308.7" x2="94.5" y2="312.3" stroke="#1b5a94" stroke-width="0.9"/>
<line x1="97" y1="308.7" x2="97" y2="312.3" stroke="#1b5a94" stroke-width="0.9"/>
<line x1="102" y1="308.7" x2="102" y2="312.3" stroke="#1b5a94" stroke-width="0.9"/>
<line x1="107.5" y1="312.6" x2="107.5" y2="316.2" stroke="#1b5a94" stroke-width="0.9"/>
<line x1="115.8" y1="312.6" x2="115.8" y2="316.2" stroke="#1b5a94" stroke-width="0.9"/>
<line x1="122" y1="312.6" x2="122" y2="316.2" stroke="#1b5a94" stroke-width="0.9"/>
<line x1="127" y1="312.6" x2="127" y2="316.2" stroke="#1b5a94" stroke-width="0.9"/>
<line x1="129.5" y1="312.6" x2="129.5" y2="316.2" stroke="#1b5a94" stroke-width="0.9"/>
<line x1="150.8" y1="312.6" x2="150.8" y2="316.2" stroke="#1b5a94" stroke-width="0.9"/>
<line x1="157" y1="312.6" x2="157" y2="316.2" stroke="#1b5a94" stroke-width="0.9"/>
<line x1="168.3" y1="312.6" x2="168.3" y2="316.2" stroke="#1b5a94" stroke-width="0.9"/>
<text x="56.6" y="364.5" font-size="10" text-anchor="start" font-style="italic" textLength="23.4" lengthAdjust="spacingAndGlyphs" fill="#333" color="#333">ICOS</text>
<line x1="49.2" y1="372.0" x2="55.7" y2="372.0" stroke="#1b5a94" stroke-width="1.6"/>
<line x1="49.2" y1="380.1" x2="55.7" y2="380.1" stroke="#c5112f" stroke-width="1.6"/>
<text x="57.2" y="374.3" font-size="7.6" text-anchor="start" textLength="41.8" lengthAdjust="spacingAndGlyphs" fill="#333" color="#333">High (n = 51)</text>
<text x="57.2" y="382.4" font-size="7.6" text-anchor="start" textLength="44" lengthAdjust="spacingAndGlyphs" fill="#333" color="#333">Low (n = 119)</text>
<text x="165.3" y="380.3" font-size="7.4" text-anchor="end" fill="#333" color="#333" textLength="33.3" lengthAdjust="spacingAndGlyphs"><tspan font-style="italic">P</tspan> = 5.2e-5</text>
<path d="M211.3 295.8 V386.1 H342.8" fill="none" stroke="#3a3a3a" stroke-width="1.2"/>
<line x1="208.3" y1="299.8" x2="211.3" y2="299.8" stroke="#3a3a3a" stroke-width="1"/>
<text x="205.5" y="302.7" font-size="7.8" text-anchor="end" textLength="10.6" lengthAdjust="spacingAndGlyphs" fill="#333" color="#333">1.0</text>
<line x1="208.3" y1="317.06" x2="211.3" y2="317.06" stroke="#3a3a3a" stroke-width="1"/>
<text x="205.5" y="319.96" font-size="7.8" text-anchor="end" textLength="10.6" lengthAdjust="spacingAndGlyphs" fill="#333" color="#333">0.8</text>
<line x1="208.3" y1="334.32" x2="211.3" y2="334.32" stroke="#3a3a3a" stroke-width="1"/>
<text x="205.5" y="337.22" font-size="7.8" text-anchor="end" textLength="10.6" lengthAdjust="spacingAndGlyphs" fill="#333" color="#333">0.6</text>
<line x1="208.3" y1="351.58" x2="211.3" y2="351.58" stroke="#3a3a3a" stroke-width="1"/>
<text x="205.5" y="354.48" font-size="7.8" text-anchor="end" textLength="10.6" lengthAdjust="spacingAndGlyphs" fill="#333" color="#333">0.4</text>
<line x1="208.3" y1="368.84" x2="211.3" y2="368.84" stroke="#3a3a3a" stroke-width="1"/>
<text x="205.5" y="371.74" font-size="7.8" text-anchor="end" textLength="10.6" lengthAdjust="spacingAndGlyphs" fill="#333" color="#333">0.2</text>
<line x1="208.3" y1="386.1" x2="211.3" y2="386.1" stroke="#3a3a3a" stroke-width="1"/>
<text x="205.5" y="389.0" font-size="7.8" text-anchor="end" textLength="10.6" lengthAdjust="spacingAndGlyphs" fill="#333" color="#333">0.0</text>
<line x1="211.5" y1="386.1" x2="211.5" y2="389.1" stroke="#3a3a3a" stroke-width="1"/>
<text x="211.5" y="398.5" font-size="7.6" text-anchor="middle" textLength="4.2" lengthAdjust="spacingAndGlyphs" fill="#333" color="#333">0</text>
<line x1="226.7" y1="386.1" x2="226.7" y2="389.1" stroke="#3a3a3a" stroke-width="1"/>
<text x="226.7" y="398.5" font-size="7.6" text-anchor="middle" textLength="8.4" lengthAdjust="spacingAndGlyphs" fill="#333" color="#333">12</text>
<line x1="241.9" y1="386.1" x2="241.9" y2="389.1" stroke="#3a3a3a" stroke-width="1"/>
<text x="241.9" y="398.5" font-size="7.6" text-anchor="middle" textLength="8.4" lengthAdjust="spacingAndGlyphs" fill="#333" color="#333">24</text>
<line x1="257.1" y1="386.1" x2="257.1" y2="389.1" stroke="#3a3a3a" stroke-width="1"/>
<text x="257.1" y="398.5" font-size="7.6" text-anchor="middle" textLength="8.4" lengthAdjust="spacingAndGlyphs" fill="#333" color="#333">36</text>
<line x1="272.3" y1="386.1" x2="272.3" y2="389.1" stroke="#3a3a3a" stroke-width="1"/>
<text x="272.3" y="398.5" font-size="7.6" text-anchor="middle" textLength="8.4" lengthAdjust="spacingAndGlyphs" fill="#333" color="#333">48</text>
<line x1="287.5" y1="386.1" x2="287.5" y2="389.1" stroke="#3a3a3a" stroke-width="1"/>
<text x="287.5" y="398.5" font-size="7.6" text-anchor="middle" textLength="8.4" lengthAdjust="spacingAndGlyphs" fill="#333" color="#333">60</text>
<line x1="302.7" y1="386.1" x2="302.7" y2="389.1" stroke="#3a3a3a" stroke-width="1"/>
<text x="302.7" y="398.5" font-size="7.6" text-anchor="middle" textLength="8.4" lengthAdjust="spacingAndGlyphs" fill="#333" color="#333">72</text>
<line x1="317.9" y1="386.1" x2="317.9" y2="389.1" stroke="#3a3a3a" stroke-width="1"/>
<text x="317.9" y="398.5" font-size="7.6" text-anchor="middle" textLength="8.4" lengthAdjust="spacingAndGlyphs" fill="#333" color="#333">84</text>
<line x1="333.1" y1="386.1" x2="333.1" y2="389.1" stroke="#3a3a3a" stroke-width="1"/>
<text x="333.1" y="398.5" font-size="7.6" text-anchor="middle" textLength="8.4" lengthAdjust="spacingAndGlyphs" fill="#333" color="#333">96</text>
<text x="277.3" y="410.5" font-size="8.7" text-anchor="middle" textLength="86.5" lengthAdjust="spacingAndGlyphs" fill="#333" color="#333" class="bb">Time since diagnosis (months)</text>
<text transform="translate(189.0,341.2) rotate(-90)" font-size="8.4" text-anchor="middle" textLength="47" lengthAdjust="spacingAndGlyphs" class="bb" fill="#333" color="#333">DFS (probability)</text>
<path d="M211.50 299.80 L212.38 299.80 L212.38 301.90 L213.25 301.90 L213.25 304.00 L214.12 304.00 L214.12 306.10 L215.00 306.10 L215.00 308.20 L217.07 308.20 L217.07 310.00 L219.13 310.00 L219.13 311.80 L221.20 311.80 L221.20 313.60 L221.72 313.60 L221.72 315.60 L222.24 315.60 L222.24 317.60 L222.76 317.60 L222.76 319.60 L223.28 319.60 L223.28 321.60 L223.80 321.60 L223.80 323.60 L225.60 323.60 L225.60 325.20 L227.40 325.20 L227.40 326.80 L229.20 326.80 L229.20 328.40 L231.47 328.40 L231.47 329.27 L233.73 329.27 L233.73 330.13 L236.00 330.13 L236.00 331.00 L238.23 331.00 L238.23 332.60 L240.47 332.60 L240.47 334.20 L242.70 334.20 L242.70 335.80 L266.90 335.80 L268.60 335.80 L268.60 337.45 L270.30 337.45 L270.30 339.10 L288.00 339.10 L288.00 343.00 L300.00 343.00 L300.00 357.00 L325.80 357.00" fill="none" stroke="#c5112f" stroke-width="1.35" stroke-linejoin="miter"/>
<path d="M211.50 299.80 L213.65 299.80 L213.65 300.60 L215.80 300.60 L215.80 301.40 L218.50 301.40 L218.50 303.50 L220.50 303.50 L220.50 305.15 L222.50 305.15 L222.50 306.80 L224.30 306.80 L224.30 307.93 L226.10 307.93 L226.10 309.07 L227.90 309.07 L227.90 310.20 L240.70 310.20 L243.05 310.20 L243.05 311.20 L245.40 311.20 L245.40 312.20 L247.20 312.20 L247.20 312.87 L249.00 312.87 L249.00 313.53 L250.80 313.53 L250.80 314.20 L252.57 314.20 L252.57 315.33 L254.33 315.33 L254.33 316.47 L256.10 316.47 L256.10 317.60 L272.70 317.60 L274.00 317.60 L274.00 320.00 L284.20 320.00 L284.60 320.00 L284.60 322.30 L285.00 322.30 L285.00 324.60 L338.50 324.60" fill="none" stroke="#1b5a94" stroke-width="1.35" stroke-linejoin="miter"/>
<line x1="247" y1="334.0" x2="247" y2="337.6" stroke="#c5112f" stroke-width="0.9"/>
<line x1="251" y1="334.0" x2="251" y2="337.6" stroke="#c5112f" stroke-width="0.9"/>
<line x1="255" y1="334.0" x2="255" y2="337.6" stroke="#c5112f" stroke-width="0.9"/>
<line x1="258" y1="334.0" x2="258" y2="337.6" stroke="#c5112f" stroke-width="0.9"/>
<line x1="262" y1="334.0" x2="262" y2="337.6" stroke="#c5112f" stroke-width="0.9"/>
<line x1="265" y1="334.0" x2="265" y2="337.6" stroke="#c5112f" stroke-width="0.9"/>
<line x1="273" y1="337.3" x2="273" y2="340.9" stroke="#c5112f" stroke-width="0.9"/>
<line x1="278" y1="337.3" x2="278" y2="340.9" stroke="#c5112f" stroke-width="0.9"/>
<line x1="283" y1="337.3" x2="283" y2="340.9" stroke="#c5112f" stroke-width="0.9"/>
<line x1="291" y1="341.2" x2="291" y2="344.8" stroke="#c5112f" stroke-width="0.9"/>
<line x1="296" y1="341.2" x2="296" y2="344.8" stroke="#c5112f" stroke-width="0.9"/>
<line x1="306" y1="355.2" x2="306" y2="358.8" stroke="#c5112f" stroke-width="0.9"/>
<line x1="325.5" y1="355.2" x2="325.5" y2="358.8" stroke="#c5112f" stroke-width="0.9"/>
<line x1="230" y1="308.4" x2="230" y2="312.0" stroke="#1b5a94" stroke-width="0.9"/>
<line x1="233" y1="308.4" x2="233" y2="312.0" stroke="#1b5a94" stroke-width="0.9"/>
<line x1="237" y1="308.4" x2="237" y2="312.0" stroke="#1b5a94" stroke-width="0.9"/>
<line x1="241" y1="308.6" x2="241" y2="312.2" stroke="#1b5a94" stroke-width="0.9"/>
<line x1="258" y1="315.8" x2="258" y2="319.4" stroke="#1b5a94" stroke-width="0.9"/>
<line x1="261" y1="315.8" x2="261" y2="319.4" stroke="#1b5a94" stroke-width="0.9"/>
<line x1="263" y1="315.8" x2="263" y2="319.4" stroke="#1b5a94" stroke-width="0.9"/>
<line x1="266" y1="315.8" x2="266" y2="319.4" stroke="#1b5a94" stroke-width="0.9"/>
<line x1="270" y1="315.8" x2="270" y2="319.4" stroke="#1b5a94" stroke-width="0.9"/>
<line x1="280" y1="318.2" x2="280" y2="321.8" stroke="#1b5a94" stroke-width="0.9"/>
<line x1="298" y1="322.8" x2="298" y2="326.4" stroke="#1b5a94" stroke-width="0.9"/>
<line x1="302" y1="322.8" x2="302" y2="326.4" stroke="#1b5a94" stroke-width="0.9"/>
<line x1="307" y1="322.8" x2="307" y2="326.4" stroke="#1b5a94" stroke-width="0.9"/>
<line x1="313" y1="322.8" x2="313" y2="326.4" stroke="#1b5a94" stroke-width="0.9"/>
<line x1="316" y1="322.8" x2="316" y2="326.4" stroke="#1b5a94" stroke-width="0.9"/>
<line x1="330" y1="322.8" x2="330" y2="326.4" stroke="#1b5a94" stroke-width="0.9"/>
<line x1="334" y1="322.8" x2="334" y2="326.4" stroke="#1b5a94" stroke-width="0.9"/>
<line x1="337" y1="322.8" x2="337" y2="326.4" stroke="#1b5a94" stroke-width="0.9"/>
<text x="228.4" y="364.5" font-size="10" text-anchor="start" font-style="italic" textLength="20.8" lengthAdjust="spacingAndGlyphs" fill="#333" color="#333">IL-21</text>
<line x1="219.2" y1="372.0" x2="225.7" y2="372.0" stroke="#1b5a94" stroke-width="1.6"/>
<line x1="219.2" y1="380.1" x2="225.7" y2="380.1" stroke="#c5112f" stroke-width="1.6"/>
<text x="227.2" y="374.3" font-size="7.6" text-anchor="start" textLength="41.8" lengthAdjust="spacingAndGlyphs" fill="#333" color="#333">High (n = 67)</text>
<text x="227.2" y="382.4" font-size="7.6" text-anchor="start" textLength="44" lengthAdjust="spacingAndGlyphs" fill="#333" color="#333">Low (n = 103)</text>
<text x="336.1" y="380.3" font-size="7.4" text-anchor="end" fill="#333" color="#333" textLength="31.2" lengthAdjust="spacingAndGlyphs"><tspan font-style="italic">P</tspan> = .0014</text>
<path d="M381.3 295.8 V386.1 H512.8" fill="none" stroke="#3a3a3a" stroke-width="1.2"/>
<line x1="378.3" y1="299.8" x2="381.3" y2="299.8" stroke="#3a3a3a" stroke-width="1"/>
<text x="375.5" y="302.7" font-size="7.8" text-anchor="end" textLength="10.6" lengthAdjust="spacingAndGlyphs" fill="#333" color="#333">1.0</text>
<line x1="378.3" y1="317.06" x2="381.3" y2="317.06" stroke="#3a3a3a" stroke-width="1"/>
<text x="375.5" y="319.96" font-size="7.8" text-anchor="end" textLength="10.6" lengthAdjust="spacingAndGlyphs" fill="#333" color="#333">0.8</text>
<line x1="378.3" y1="334.32" x2="381.3" y2="334.32" stroke="#3a3a3a" stroke-width="1"/>
<text x="375.5" y="337.22" font-size="7.8" text-anchor="end" textLength="10.6" lengthAdjust="spacingAndGlyphs" fill="#333" color="#333">0.6</text>
<line x1="378.3" y1="351.58" x2="381.3" y2="351.58" stroke="#3a3a3a" stroke-width="1"/>
<text x="375.5" y="354.48" font-size="7.8" text-anchor="end" textLength="10.6" lengthAdjust="spacingAndGlyphs" fill="#333" color="#333">0.4</text>
<line x1="378.3" y1="368.84" x2="381.3" y2="368.84" stroke="#3a3a3a" stroke-width="1"/>
<text x="375.5" y="371.74" font-size="7.8" text-anchor="end" textLength="10.6" lengthAdjust="spacingAndGlyphs" fill="#333" color="#333">0.2</text>
<line x1="378.3" y1="386.1" x2="381.3" y2="386.1" stroke="#3a3a3a" stroke-width="1"/>
<text x="375.5" y="389.0" font-size="7.8" text-anchor="end" textLength="10.6" lengthAdjust="spacingAndGlyphs" fill="#333" color="#333">0.0</text>
<line x1="381.5" y1="386.1" x2="381.5" y2="389.1" stroke="#3a3a3a" stroke-width="1"/>
<text x="381.5" y="398.5" font-size="7.6" text-anchor="middle" textLength="4.2" lengthAdjust="spacingAndGlyphs" fill="#333" color="#333">0</text>
<line x1="396.7" y1="386.1" x2="396.7" y2="389.1" stroke="#3a3a3a" stroke-width="1"/>
<text x="396.7" y="398.5" font-size="7.6" text-anchor="middle" textLength="8.4" lengthAdjust="spacingAndGlyphs" fill="#333" color="#333">12</text>
<line x1="411.9" y1="386.1" x2="411.9" y2="389.1" stroke="#3a3a3a" stroke-width="1"/>
<text x="411.9" y="398.5" font-size="7.6" text-anchor="middle" textLength="8.4" lengthAdjust="spacingAndGlyphs" fill="#333" color="#333">24</text>
<line x1="427.1" y1="386.1" x2="427.1" y2="389.1" stroke="#3a3a3a" stroke-width="1"/>
<text x="427.1" y="398.5" font-size="7.6" text-anchor="middle" textLength="8.4" lengthAdjust="spacingAndGlyphs" fill="#333" color="#333">36</text>
<line x1="442.3" y1="386.1" x2="442.3" y2="389.1" stroke="#3a3a3a" stroke-width="1"/>
<text x="442.3" y="398.5" font-size="7.6" text-anchor="middle" textLength="8.4" lengthAdjust="spacingAndGlyphs" fill="#333" color="#333">48</text>
<line x1="457.5" y1="386.1" x2="457.5" y2="389.1" stroke="#3a3a3a" stroke-width="1"/>
<text x="457.5" y="398.5" font-size="7.6" text-anchor="middle" textLength="8.4" lengthAdjust="spacingAndGlyphs" fill="#333" color="#333">60</text>
<line x1="472.7" y1="386.1" x2="472.7" y2="389.1" stroke="#3a3a3a" stroke-width="1"/>
<text x="472.7" y="398.5" font-size="7.6" text-anchor="middle" textLength="8.4" lengthAdjust="spacingAndGlyphs" fill="#333" color="#333">72</text>
<line x1="487.9" y1="386.1" x2="487.9" y2="389.1" stroke="#3a3a3a" stroke-width="1"/>
<text x="487.9" y="398.5" font-size="7.6" text-anchor="middle" textLength="8.4" lengthAdjust="spacingAndGlyphs" fill="#333" color="#333">84</text>
<line x1="503.1" y1="386.1" x2="503.1" y2="389.1" stroke="#3a3a3a" stroke-width="1"/>
<text x="503.1" y="398.5" font-size="7.6" text-anchor="middle" textLength="8.4" lengthAdjust="spacingAndGlyphs" fill="#333" color="#333">96</text>
<text x="447.3" y="410.5" font-size="8.7" text-anchor="middle" textLength="86.5" lengthAdjust="spacingAndGlyphs" fill="#333" color="#333" class="bb">Time since diagnosis (months)</text>
<text transform="translate(359.0,341.2) rotate(-90)" font-size="8.4" text-anchor="middle" textLength="47" lengthAdjust="spacingAndGlyphs" class="bb" fill="#333" color="#333">DFS (probability)</text>
<path d="M381.50 299.80 L382.62 299.80 L382.62 301.88 L383.74 301.88 L383.74 303.96 L384.86 303.96 L384.86 306.04 L385.98 306.04 L385.98 308.12 L387.10 308.12 L387.10 310.20 L389.45 310.20 L389.45 311.90 L391.80 311.90 L391.80 313.60 L392.48 313.60 L392.48 315.60 L393.15 315.60 L393.15 317.60 L393.82 317.60 L393.82 319.60 L394.50 319.60 L394.50 321.60 L396.20 321.60 L396.20 323.65 L397.90 323.65 L397.90 325.70 L399.92 325.70 L399.92 326.38 L401.95 326.38 L401.95 327.05 L403.98 327.05 L403.98 327.72 L406.00 327.72 L406.00 328.40 L408.23 328.40 L408.23 329.97 L410.47 329.97 L410.47 331.53 L412.70 331.53 L412.70 333.10 L414.72 333.10 L414.72 333.21 L416.73 333.21 L416.73 333.32 L418.75 333.32 L418.75 333.43 L420.77 333.43 L420.77 333.53 L422.78 333.53 L422.78 333.64 L424.80 333.64 L424.80 333.75 L426.82 333.75 L426.82 333.86 L428.83 333.86 L428.83 333.97 L430.85 333.97 L430.85 334.07 L432.87 334.07 L432.87 334.18 L434.88 334.18 L434.88 334.29 L436.90 334.29 L436.90 334.40 L438.95 334.40 L438.95 335.70 L441.00 335.70 L441.00 337.00 L443.00 337.00 L443.00 337.75 L445.00 337.75 L445.00 338.50 L452.70 338.50 L454.47 338.50 L454.47 339.27 L456.23 339.27 L456.23 340.03 L458.00 340.03 L458.00 340.80 L458.00 343.80 L470.00 343.80 L470.00 352.00 L495.80 352.00" fill="none" stroke="#c5112f" stroke-width="1.35" stroke-linejoin="miter"/>
<path d="M381.50 299.80 L386.40 299.80 L386.40 302.10 L389.80 302.10 L389.80 304.10 L418.00 304.10 L418.00 306.80 L423.00 306.80 L424.25 306.80 L424.25 308.40 L425.50 308.40 L425.50 310.00 L508.50 310.00" fill="none" stroke="#1b5a94" stroke-width="1.35" stroke-linejoin="miter"/>
<line x1="420.8" y1="332.2" x2="420.8" y2="335.8" stroke="#c5112f" stroke-width="0.9"/>
<line x1="428.8" y1="332.4" x2="428.8" y2="336.0" stroke="#c5112f" stroke-width="0.9"/>
<line x1="432.9" y1="332.5" x2="432.9" y2="336.1" stroke="#c5112f" stroke-width="0.9"/>
<line x1="436.2" y1="332.6" x2="436.2" y2="336.2" stroke="#c5112f" stroke-width="0.9"/>
<line x1="441.2" y1="335.2" x2="441.2" y2="338.8" stroke="#c5112f" stroke-width="0.9"/>
<line x1="448.8" y1="336.7" x2="448.8" y2="340.3" stroke="#c5112f" stroke-width="0.9"/>
<line x1="453.5" y1="336.7" x2="453.5" y2="340.3" stroke="#c5112f" stroke-width="0.9"/>
<line x1="455.8" y1="337.7" x2="455.8" y2="341.3" stroke="#c5112f" stroke-width="0.9"/>
<line x1="461.2" y1="342.0" x2="461.2" y2="345.6" stroke="#c5112f" stroke-width="0.9"/>
<line x1="463.5" y1="342.0" x2="463.5" y2="345.6" stroke="#c5112f" stroke-width="0.9"/>
<line x1="465.8" y1="342.0" x2="465.8" y2="345.6" stroke="#c5112f" stroke-width="0.9"/>
<line x1="476.4" y1="350.2" x2="476.4" y2="353.8" stroke="#c5112f" stroke-width="0.9"/>
<line x1="485.8" y1="350.2" x2="485.8" y2="353.8" stroke="#c5112f" stroke-width="0.9"/>
<line x1="489.6" y1="350.2" x2="489.6" y2="353.8" stroke="#c5112f" stroke-width="0.9"/>
<line x1="495.6" y1="350.2" x2="495.6" y2="353.8" stroke="#c5112f" stroke-width="0.9"/>
<line x1="410.7" y1="302.3" x2="410.7" y2="305.9" stroke="#1b5a94" stroke-width="0.9"/>
<line x1="416" y1="302.3" x2="416" y2="305.9" stroke="#1b5a94" stroke-width="0.9"/>
<line x1="432.9" y1="308.2" x2="432.9" y2="311.8" stroke="#1b5a94" stroke-width="0.9"/>
<line x1="436.2" y1="308.2" x2="436.2" y2="311.8" stroke="#1b5a94" stroke-width="0.9"/>
<line x1="441.2" y1="308.2" x2="441.2" y2="311.8" stroke="#1b5a94" stroke-width="0.9"/>
<line x1="443.5" y1="308.2" x2="443.5" y2="311.8" stroke="#1b5a94" stroke-width="0.9"/>
<line x1="446.5" y1="308.2" x2="446.5" y2="311.8" stroke="#1b5a94" stroke-width="0.9"/>
<line x1="453.5" y1="308.2" x2="453.5" y2="311.8" stroke="#1b5a94" stroke-width="0.9"/>
<line x1="455" y1="308.2" x2="455" y2="311.8" stroke="#1b5a94" stroke-width="0.9"/>
<line x1="463.5" y1="308.2" x2="463.5" y2="311.8" stroke="#1b5a94" stroke-width="0.9"/>
<line x1="465.8" y1="308.2" x2="465.8" y2="311.8" stroke="#1b5a94" stroke-width="0.9"/>
<line x1="470" y1="308.2" x2="470" y2="311.8" stroke="#1b5a94" stroke-width="0.9"/>
<line x1="495.8" y1="308.2" x2="495.8" y2="311.8" stroke="#1b5a94" stroke-width="0.9"/>
<line x1="502.7" y1="308.2" x2="502.7" y2="311.8" stroke="#1b5a94" stroke-width="0.9"/>
<line x1="505" y1="308.2" x2="505" y2="311.8" stroke="#1b5a94" stroke-width="0.9"/>
<line x1="508.3" y1="308.2" x2="508.3" y2="311.8" stroke="#1b5a94" stroke-width="0.9"/>
<text x="394.7" y="364.5" font-size="10" text-anchor="start" font-style="italic" textLength="36.2" lengthAdjust="spacingAndGlyphs" fill="#333" color="#333">CD40LG</text>
<line x1="386.7" y1="372.0" x2="393.2" y2="372.0" stroke="#1b5a94" stroke-width="1.6"/>
<line x1="386.7" y1="380.1" x2="393.2" y2="380.1" stroke="#c5112f" stroke-width="1.6"/>
<text x="394.7" y="374.3" font-size="7.6" text-anchor="start" textLength="41.8" lengthAdjust="spacingAndGlyphs" fill="#333" color="#333">High (n = 37)</text>
<text x="394.7" y="382.4" font-size="7.6" text-anchor="start" textLength="44" lengthAdjust="spacingAndGlyphs" fill="#333" color="#333">Low (n = 133)</text>
<text x="503.7" y="380.3" font-size="7.4" text-anchor="end" fill="#333" color="#333" textLength="35" lengthAdjust="spacingAndGlyphs"><tspan font-style="italic">P</tspan> = .00033</text>
<path d="M42.2 426.2 V516.5 H173.7" fill="none" stroke="#3a3a3a" stroke-width="1.2"/>
<line x1="39.2" y1="430.2" x2="42.2" y2="430.2" stroke="#3a3a3a" stroke-width="1"/>
<text x="36.4" y="433.1" font-size="7.8" text-anchor="end" textLength="10.6" lengthAdjust="spacingAndGlyphs" fill="#333" color="#333">1.0</text>
<line x1="39.2" y1="447.46" x2="42.2" y2="447.46" stroke="#3a3a3a" stroke-width="1"/>
<text x="36.4" y="450.36" font-size="7.8" text-anchor="end" textLength="10.6" lengthAdjust="spacingAndGlyphs" fill="#333" color="#333">0.8</text>
<line x1="39.2" y1="464.72" x2="42.2" y2="464.72" stroke="#3a3a3a" stroke-width="1"/>
<text x="36.4" y="467.62" font-size="7.8" text-anchor="end" textLength="10.6" lengthAdjust="spacingAndGlyphs" fill="#333" color="#333">0.6</text>
<line x1="39.2" y1="481.98" x2="42.2" y2="481.98" stroke="#3a3a3a" stroke-width="1"/>
<text x="36.4" y="484.88" font-size="7.8" text-anchor="end" textLength="10.6" lengthAdjust="spacingAndGlyphs" fill="#333" color="#333">0.4</text>
<line x1="39.2" y1="499.24" x2="42.2" y2="499.24" stroke="#3a3a3a" stroke-width="1"/>
<text x="36.4" y="502.14" font-size="7.8" text-anchor="end" textLength="10.6" lengthAdjust="spacingAndGlyphs" fill="#333" color="#333">0.2</text>
<line x1="39.2" y1="516.5" x2="42.2" y2="516.5" stroke="#3a3a3a" stroke-width="1"/>
<text x="36.4" y="519.4" font-size="7.8" text-anchor="end" textLength="10.6" lengthAdjust="spacingAndGlyphs" fill="#333" color="#333">0.0</text>
<line x1="42.4" y1="516.5" x2="42.4" y2="519.5" stroke="#3a3a3a" stroke-width="1"/>
<text x="42.4" y="528.9" font-size="7.6" text-anchor="middle" textLength="4.2" lengthAdjust="spacingAndGlyphs" fill="#333" color="#333">0</text>
<line x1="57.6" y1="516.5" x2="57.6" y2="519.5" stroke="#3a3a3a" stroke-width="1"/>
<text x="57.6" y="528.9" font-size="7.6" text-anchor="middle" textLength="8.4" lengthAdjust="spacingAndGlyphs" fill="#333" color="#333">12</text>
<line x1="72.8" y1="516.5" x2="72.8" y2="519.5" stroke="#3a3a3a" stroke-width="1"/>
<text x="72.8" y="528.9" font-size="7.6" text-anchor="middle" textLength="8.4" lengthAdjust="spacingAndGlyphs" fill="#333" color="#333">24</text>
<line x1="88.0" y1="516.5" x2="88.0" y2="519.5" stroke="#3a3a3a" stroke-width="1"/>
<text x="88.0" y="528.9" font-size="7.6" text-anchor="middle" textLength="8.4" lengthAdjust="spacingAndGlyphs" fill="#333" color="#333">36</text>
<line x1="103.2" y1="516.5" x2="103.2" y2="519.5" stroke="#3a3a3a" stroke-width="1"/>
<text x="103.2" y="528.9" font-size="7.6" text-anchor="middle" textLength="8.4" lengthAdjust="spacingAndGlyphs" fill="#333" color="#333">48</text>
<line x1="118.4" y1="516.5" x2="118.4" y2="519.5" stroke="#3a3a3a" stroke-width="1"/>
<text x="118.4" y="528.9" font-size="7.6" text-anchor="middle" textLength="8.4" lengthAdjust="spacingAndGlyphs" fill="#333" color="#333">60</text>
<line x1="133.6" y1="516.5" x2="133.6" y2="519.5" stroke="#3a3a3a" stroke-width="1"/>
<text x="133.6" y="528.9" font-size="7.6" text-anchor="middle" textLength="8.4" lengthAdjust="spacingAndGlyphs" fill="#333" color="#333">72</text>
<line x1="148.8" y1="516.5" x2="148.8" y2="519.5" stroke="#3a3a3a" stroke-width="1"/>
<text x="148.8" y="528.9" font-size="7.6" text-anchor="middle" textLength="8.4" lengthAdjust="spacingAndGlyphs" fill="#333" color="#333">84</text>
<line x1="164.0" y1="516.5" x2="164.0" y2="519.5" stroke="#3a3a3a" stroke-width="1"/>
<text x="164.0" y="528.9" font-size="7.6" text-anchor="middle" textLength="8.4" lengthAdjust="spacingAndGlyphs" fill="#333" color="#333">96</text>
<text x="108.2" y="540.9" font-size="8.7" text-anchor="middle" textLength="86.5" lengthAdjust="spacingAndGlyphs" fill="#333" color="#333" class="bb">Time since diagnosis (months)</text>
<text transform="translate(19.9,471.6) rotate(-90)" font-size="8.4" text-anchor="middle" textLength="47" lengthAdjust="spacingAndGlyphs" class="bb" fill="#333" color="#333">DFS (probability)</text>
<path d="M42.40 430.20 L43.18 430.20 L43.18 432.08 L43.97 432.08 L43.97 433.97 L44.75 433.97 L44.75 435.85 L45.53 435.85 L45.53 437.73 L46.32 437.73 L46.32 439.62 L47.10 439.62 L47.10 441.50 L48.47 441.50 L48.47 443.33 L49.83 443.33 L49.83 445.17 L51.20 445.17 L51.20 447.00 L52.00 447.00 L52.00 448.86 L52.80 448.86 L52.80 450.72 L53.60 450.72 L53.60 452.58 L54.40 452.58 L54.40 454.44 L55.20 454.44 L55.20 456.30 L56.53 456.30 L56.53 458.10 L57.87 458.10 L57.87 459.90 L59.20 459.90 L59.20 461.70 L61.47 461.70 L61.47 462.80 L63.73 462.80 L63.73 463.90 L66.00 463.90 L66.00 465.00 L68.23 465.00 L68.23 466.60 L70.47 466.60 L70.47 468.20 L72.70 468.20 L72.70 469.80 L74.65 469.80 L74.65 469.92 L76.61 469.92 L76.61 470.04 L78.56 470.04 L78.56 470.15 L80.52 470.15 L80.52 470.27 L82.47 470.27 L82.47 470.39 L84.43 470.39 L84.43 470.51 L86.38 470.51 L86.38 470.63 L88.34 470.63 L88.34 470.75 L90.29 470.75 L90.29 470.86 L92.25 470.86 L92.25 470.98 L94.20 470.98 L94.20 471.10 L96.25 471.10 L96.25 472.45 L98.30 472.45 L98.30 473.80 L114.20 473.80 L114.20 477.40 L137.30 477.40" fill="none" stroke="#c5112f" stroke-width="1.35" stroke-linejoin="miter"/>
<path d="M42.40 430.20 L45.10 430.20 L45.10 432.80 L47.33 432.80 L47.33 433.70 L49.57 433.70 L49.57 434.60 L51.80 434.60 L51.80 435.50 L53.37 435.50 L53.37 437.73 L54.93 437.73 L54.93 439.97 L56.50 439.97 L56.50 442.20 L58.77 442.20 L58.77 442.43 L61.03 442.43 L61.03 442.67 L63.30 442.67 L63.30 442.90 L65.18 442.90 L65.18 443.56 L67.06 443.56 L67.06 444.22 L68.94 444.22 L68.94 444.88 L70.82 444.88 L70.82 445.54 L72.70 445.54 L72.70 446.20 L74.61 446.20 L74.61 446.59 L76.53 446.59 L76.53 446.97 L78.44 446.97 L78.44 447.36 L80.36 447.36 L80.36 447.74 L82.27 447.74 L82.27 448.13 L84.19 448.13 L84.19 448.51 L86.10 448.51 L86.10 448.90 L88.13 448.90 L88.13 449.07 L90.17 449.07 L90.17 449.23 L92.20 449.23 L92.20 449.40 L94.23 449.40 L94.23 449.57 L96.27 449.57 L96.27 449.73 L98.30 449.73 L98.30 449.90 L100.10 449.90 L100.10 450.70 L101.90 450.70 L101.90 451.50 L103.85 451.50 L103.85 452.45 L105.80 452.45 L105.80 453.40 L118.80 453.40 L118.80 457.20 L130.70 457.20 L130.70 464.90 L168.50 464.90" fill="none" stroke="#1b5a94" stroke-width="1.35" stroke-linejoin="miter"/>
<line x1="85" y1="469.2" x2="85" y2="472.8" stroke="#c5112f" stroke-width="0.9"/>
<line x1="90" y1="469.2" x2="90" y2="472.8" stroke="#c5112f" stroke-width="0.9"/>
<line x1="100" y1="472.0" x2="100" y2="475.6" stroke="#c5112f" stroke-width="0.9"/>
<line x1="104" y1="472.0" x2="104" y2="475.6" stroke="#c5112f" stroke-width="0.9"/>
<line x1="115" y1="475.6" x2="115" y2="479.2" stroke="#c5112f" stroke-width="0.9"/>
<line x1="119" y1="475.6" x2="119" y2="479.2" stroke="#c5112f" stroke-width="0.9"/>
<line x1="125" y1="475.6" x2="125" y2="479.2" stroke="#c5112f" stroke-width="0.9"/>
<line x1="130" y1="475.6" x2="130" y2="479.2" stroke="#c5112f" stroke-width="0.9"/>
<line x1="137" y1="475.6" x2="137" y2="479.2" stroke="#c5112f" stroke-width="0.9"/>
<line x1="80" y1="446.2" x2="80" y2="449.8" stroke="#1b5a94" stroke-width="0.9"/>
<line x1="90" y1="447.7" x2="90" y2="451.3" stroke="#1b5a94" stroke-width="0.9"/>
<line x1="96" y1="448.1" x2="96" y2="451.7" stroke="#1b5a94" stroke-width="0.9"/>
<line x1="104" y1="451.6" x2="104" y2="455.2" stroke="#1b5a94" stroke-width="0.9"/>
<line x1="108" y1="451.6" x2="108" y2="455.2" stroke="#1b5a94" stroke-width="0.9"/>
<line x1="112" y1="451.6" x2="112" y2="455.2" stroke="#1b5a94" stroke-width="0.9"/>
<line x1="116" y1="451.6" x2="116" y2="455.2" stroke="#1b5a94" stroke-width="0.9"/>
<line x1="121" y1="455.4" x2="121" y2="459.0" stroke="#1b5a94" stroke-width="0.9"/>
<line x1="124" y1="455.4" x2="124" y2="459.0" stroke="#1b5a94" stroke-width="0.9"/>
<line x1="128" y1="455.4" x2="128" y2="459.0" stroke="#1b5a94" stroke-width="0.9"/>
<line x1="147" y1="463.1" x2="147" y2="466.7" stroke="#1b5a94" stroke-width="0.9"/>
<line x1="150" y1="463.1" x2="150" y2="466.7" stroke="#1b5a94" stroke-width="0.9"/>
<line x1="156" y1="463.1" x2="156" y2="466.7" stroke="#1b5a94" stroke-width="0.9"/>
<line x1="163" y1="463.1" x2="163" y2="466.7" stroke="#1b5a94" stroke-width="0.9"/>
<line x1="166" y1="463.1" x2="166" y2="466.7" stroke="#1b5a94" stroke-width="0.9"/>
<text x="54.5" y="498.05" font-size="10" text-anchor="start" font-style="italic" textLength="28.2" lengthAdjust="spacingAndGlyphs" fill="#333" color="#333">CTLA4</text>
<line x1="46.7" y1="504.2" x2="53.2" y2="504.2" stroke="#1b5a94" stroke-width="1.6"/>
<line x1="46.7" y1="512.3" x2="53.2" y2="512.3" stroke="#c5112f" stroke-width="1.6"/>
<text x="54.7" y="506.5" font-size="7.6" text-anchor="start" textLength="41.8" lengthAdjust="spacingAndGlyphs" fill="#333" color="#333">High (n = 95)</text>
<text x="54.7" y="514.6" font-size="7.6" text-anchor="start" textLength="39.7" lengthAdjust="spacingAndGlyphs" fill="#333" color="#333">Low (n = 75)</text>
<text x="171.3" y="513.4" font-size="7.4" text-anchor="end" fill="#333" color="#333" textLength="31.5" lengthAdjust="spacingAndGlyphs"><tspan font-style="italic">P</tspan> = .0004</text>
<path d="M211.3 426.2 V516.5 H342.8" fill="none" stroke="#3a3a3a" stroke-width="1.2"/>
<line x1="208.3" y1="430.2" x2="211.3" y2="430.2" stroke="#3a3a3a" stroke-width="1"/>
<text x="205.5" y="433.1" font-size="7.8" text-anchor="end" textLength="10.6" lengthAdjust="spacingAndGlyphs" fill="#333" color="#333">1.0</text>
<line x1="208.3" y1="447.46" x2="211.3" y2="447.46" stroke="#3a3a3a" stroke-width="1"/>
<text x="205.5" y="450.36" font-size="7.8" text-anchor="end" textLength="10.6" lengthAdjust="spacingAndGlyphs" fill="#333" color="#333">0.8</text>
<line x1="208.3" y1="464.72" x2="211.3" y2="464.72" stroke="#3a3a3a" stroke-width="1"/>
<text x="205.5" y="467.62" font-size="7.8" text-anchor="end" textLength="10.6" lengthAdjust="spacingAndGlyphs" fill="#333" color="#333">0.6</text>
<line x1="208.3" y1="481.98" x2="211.3" y2="481.98" stroke="#3a3a3a" stroke-width="1"/>
<text x="205.5" y="484.88" font-size="7.8" text-anchor="end" textLength="10.6" lengthAdjust="spacingAndGlyphs" fill="#333" color="#333">0.4</text>
<line x1="208.3" y1="499.24" x2="211.3" y2="499.24" stroke="#3a3a3a" stroke-width="1"/>
<text x="205.5" y="502.14" font-size="7.8" text-anchor="end" textLength="10.6" lengthAdjust="spacingAndGlyphs" fill="#333" color="#333">0.2</text>
<line x1="208.3" y1="516.5" x2="211.3" y2="516.5" stroke="#3a3a3a" stroke-width="1"/>
<text x="205.5" y="519.4" font-size="7.8" text-anchor="end" textLength="10.6" lengthAdjust="spacingAndGlyphs" fill="#333" color="#333">0.0</text>
<line x1="211.5" y1="516.5" x2="211.5" y2="519.5" stroke="#3a3a3a" stroke-width="1"/>
<text x="211.5" y="528.9" font-size="7.6" text-anchor="middle" textLength="4.2" lengthAdjust="spacingAndGlyphs" fill="#333" color="#333">0</text>
<line x1="226.7" y1="516.5" x2="226.7" y2="519.5" stroke="#3a3a3a" stroke-width="1"/>
<text x="226.7" y="528.9" font-size="7.6" text-anchor="middle" textLength="8.4" lengthAdjust="spacingAndGlyphs" fill="#333" color="#333">12</text>
<line x1="241.9" y1="516.5" x2="241.9" y2="519.5" stroke="#3a3a3a" stroke-width="1"/>
<text x="241.9" y="528.9" font-size="7.6" text-anchor="middle" textLength="8.4" lengthAdjust="spacingAndGlyphs" fill="#333" color="#333">24</text>
<line x1="257.1" y1="516.5" x2="257.1" y2="519.5" stroke="#3a3a3a" stroke-width="1"/>
<text x="257.1" y="528.9" font-size="7.6" text-anchor="middle" textLength="8.4" lengthAdjust="spacingAndGlyphs" fill="#333" color="#333">36</text>
<line x1="272.3" y1="516.5" x2="272.3" y2="519.5" stroke="#3a3a3a" stroke-width="1"/>
<text x="272.3" y="528.9" font-size="7.6" text-anchor="middle" textLength="8.4" lengthAdjust="spacingAndGlyphs" fill="#333" color="#333">48</text>
<line x1="287.5" y1="516.5" x2="287.5" y2="519.5" stroke="#3a3a3a" stroke-width="1"/>
<text x="287.5" y="528.9" font-size="7.6" text-anchor="middle" textLength="8.4" lengthAdjust="spacingAndGlyphs" fill="#333" color="#333">60</text>
<line x1="302.7" y1="516.5" x2="302.7" y2="519.5" stroke="#3a3a3a" stroke-width="1"/>
<text x="302.7" y="528.9" font-size="7.6" text-anchor="middle" textLength="8.4" lengthAdjust="spacingAndGlyphs" fill="#333" color="#333">72</text>
<line x1="317.9" y1="516.5" x2="317.9" y2="519.5" stroke="#3a3a3a" stroke-width="1"/>
<text x="317.9" y="528.9" font-size="7.6" text-anchor="middle" textLength="8.4" lengthAdjust="spacingAndGlyphs" fill="#333" color="#333">84</text>
<line x1="333.1" y1="516.5" x2="333.1" y2="519.5" stroke="#3a3a3a" stroke-width="1"/>
<text x="333.1" y="528.9" font-size="7.6" text-anchor="middle" textLength="8.4" lengthAdjust="spacingAndGlyphs" fill="#333" color="#333">96</text>
<text x="277.3" y="540.9" font-size="8.7" text-anchor="middle" textLength="86.5" lengthAdjust="spacingAndGlyphs" fill="#333" color="#333" class="bb">Time since diagnosis (months)</text>
<text transform="translate(189.0,471.6) rotate(-90)" font-size="8.4" text-anchor="middle" textLength="47" lengthAdjust="spacingAndGlyphs" class="bb" fill="#333" color="#333">DFS (probability)</text>
<path d="M211.50 430.20 L211.91 430.20 L211.91 432.11 L212.33 432.11 L212.33 434.03 L212.74 434.03 L212.74 435.94 L213.16 435.94 L213.16 437.86 L213.57 437.86 L213.57 439.77 L213.99 439.77 L213.99 441.69 L214.40 441.69 L214.40 443.60 L216.45 443.60 L216.45 444.60 L218.50 444.60 L218.50 445.60 L219.83 445.60 L219.83 447.40 L221.17 447.40 L221.17 449.20 L222.50 449.20 L222.50 451.00 L222.72 451.00 L222.72 453.02 L222.93 453.02 L222.93 455.03 L223.15 455.03 L223.15 457.05 L223.37 457.05 L223.37 459.07 L223.58 459.07 L223.58 461.08 L223.80 461.08 L223.80 463.10 L228.60 463.70 L229.70 463.70 L229.70 465.50 L230.80 465.50 L230.80 467.30 L231.90 467.30 L231.90 469.10 L234.25 469.10 L234.25 469.45 L236.60 469.45 L236.60 469.80 L236.83 469.80 L236.83 472.03 L237.07 472.03 L237.07 474.27 L237.30 474.27 L237.30 476.50 L239.00 476.50 L239.00 477.50 L240.70 477.50 L240.70 478.50 L241.70 478.50 L241.70 480.90 L242.70 480.90 L242.70 483.30 L256.10 483.30 L256.10 485.80 L317.30 485.80" fill="none" stroke="#c5112f" stroke-width="1.35" stroke-linejoin="miter"/>
<path d="M211.50 430.20 L213.30 430.20 L213.30 431.50 L215.10 431.50 L215.10 432.80 L216.45 432.80 L216.45 434.50 L217.80 434.50 L217.80 436.20 L219.80 436.20 L219.80 437.20 L221.80 437.20 L221.80 438.20 L223.15 438.20 L223.15 440.20 L224.50 440.20 L224.50 442.20 L225.85 442.20 L225.85 444.20 L227.20 444.20 L227.20 446.20 L229.20 446.20 L229.20 446.90 L231.31 446.90 L231.31 447.06 L233.43 447.06 L233.43 447.21 L235.54 447.21 L235.54 447.37 L237.66 447.37 L237.66 447.53 L239.77 447.53 L239.77 447.69 L241.89 447.69 L241.89 447.84 L244.00 447.84 L244.00 448.00 L246.02 448.00 L246.02 448.27 L248.03 448.27 L248.03 448.53 L250.05 448.53 L250.05 448.80 L252.07 448.80 L252.07 449.07 L254.08 449.07 L254.08 449.33 L256.10 449.33 L256.10 449.60 L265.60 449.90 L267.47 449.90 L267.47 450.70 L269.33 450.70 L269.33 451.50 L271.20 451.50 L271.20 452.30 L272.97 452.30 L272.97 452.93 L274.73 452.93 L274.73 453.57 L276.50 453.57 L276.50 454.20 L282.70 454.20 L284.47 454.20 L284.47 454.87 L286.23 454.87 L286.23 455.53 L288.00 455.53 L288.00 456.20 L288.00 459.20 L300.00 459.20 L300.00 466.20 L338.50 466.20" fill="none" stroke="#1b5a94" stroke-width="1.35" stroke-linejoin="miter"/>
<line x1="265" y1="484.0" x2="265" y2="487.6" stroke="#c5112f" stroke-width="0.9"/>
<line x1="271" y1="484.0" x2="271" y2="487.6" stroke="#c5112f" stroke-width="0.9"/>
<line x1="282" y1="484.0" x2="282" y2="487.6" stroke="#c5112f" stroke-width="0.9"/>
<line x1="286" y1="484.0" x2="286" y2="487.6" stroke="#c5112f" stroke-width="0.9"/>
<line x1="293" y1="484.0" x2="293" y2="487.6" stroke="#c5112f" stroke-width="0.9"/>
<line x1="296" y1="484.0" x2="296" y2="487.6" stroke="#c5112f" stroke-width="0.9"/>
<line x1="317" y1="484.0" x2="317" y2="487.6" stroke="#c5112f" stroke-width="0.9"/>
<line x1="232" y1="445.2" x2="232" y2="448.8" stroke="#1b5a94" stroke-width="0.9"/>
<line x1="236" y1="445.7" x2="236" y2="449.3" stroke="#1b5a94" stroke-width="0.9"/>
<line x1="240" y1="446.2" x2="240" y2="449.8" stroke="#1b5a94" stroke-width="0.9"/>
<line x1="250" y1="447.2" x2="250" y2="450.8" stroke="#1b5a94" stroke-width="0.9"/>
<line x1="256" y1="447.8" x2="256" y2="451.4" stroke="#1b5a94" stroke-width="0.9"/>
<line x1="262" y1="448.1" x2="262" y2="451.7" stroke="#1b5a94" stroke-width="0.9"/>
<line x1="270" y1="450.2" x2="270" y2="453.8" stroke="#1b5a94" stroke-width="0.9"/>
<line x1="278" y1="452.4" x2="278" y2="456.0" stroke="#1b5a94" stroke-width="0.9"/>
<line x1="281" y1="452.4" x2="281" y2="456.0" stroke="#1b5a94" stroke-width="0.9"/>
<line x1="293" y1="457.4" x2="293" y2="461.0" stroke="#1b5a94" stroke-width="0.9"/>
<line x1="296" y1="457.4" x2="296" y2="461.0" stroke="#1b5a94" stroke-width="0.9"/>
<line x1="306" y1="464.4" x2="306" y2="468.0" stroke="#1b5a94" stroke-width="0.9"/>
<line x1="320" y1="464.4" x2="320" y2="468.0" stroke="#1b5a94" stroke-width="0.9"/>
<line x1="325" y1="464.4" x2="325" y2="468.0" stroke="#1b5a94" stroke-width="0.9"/>
<line x1="332" y1="464.4" x2="332" y2="468.0" stroke="#1b5a94" stroke-width="0.9"/>
<line x1="335" y1="464.4" x2="335" y2="468.0" stroke="#1b5a94" stroke-width="0.9"/>
<text x="223.6" y="498.05" font-size="10" text-anchor="start" font-style="italic" textLength="29.1" lengthAdjust="spacingAndGlyphs" fill="#333" color="#333">CD11c</text>
<line x1="216" y1="504.2" x2="222.5" y2="504.2" stroke="#1b5a94" stroke-width="1.6"/>
<line x1="216" y1="512.3" x2="222.5" y2="512.3" stroke="#c5112f" stroke-width="1.6"/>
<text x="224" y="506.5" font-size="7.6" text-anchor="start" textLength="45.7" lengthAdjust="spacingAndGlyphs" fill="#333" color="#333">High (n = 126)</text>
<text x="224" y="514.6" font-size="7.6" text-anchor="start" textLength="39.7" lengthAdjust="spacingAndGlyphs" fill="#333" color="#333">Low (n = 44)</text>
<text x="334.4" y="513.4" font-size="7.4" text-anchor="end" fill="#333" color="#333" textLength="35" lengthAdjust="spacingAndGlyphs"><tspan font-style="italic">P</tspan> = 2.3e-6</text>
<path d="M381.3 426.2 V516.5 H512.8" fill="none" stroke="#3a3a3a" stroke-width="1.2"/>
<line x1="378.3" y1="430.2" x2="381.3" y2="430.2" stroke="#3a3a3a" stroke-width="1"/>
<text x="375.5" y="433.1" font-size="7.8" text-anchor="end" textLength="10.6" lengthAdjust="spacingAndGlyphs" fill="#333" color="#333">1.0</text>
<line x1="378.3" y1="447.46" x2="381.3" y2="447.46" stroke="#3a3a3a" stroke-width="1"/>
<text x="375.5" y="450.36" font-size="7.8" text-anchor="end" textLength="10.6" lengthAdjust="spacingAndGlyphs" fill="#333" color="#333">0.8</text>
<line x1="378.3" y1="464.72" x2="381.3" y2="464.72" stroke="#3a3a3a" stroke-width="1"/>
<text x="375.5" y="467.62" font-size="7.8" text-anchor="end" textLength="10.6" lengthAdjust="spacingAndGlyphs" fill="#333" color="#333">0.6</text>
<line x1="378.3" y1="481.98" x2="381.3" y2="481.98" stroke="#3a3a3a" stroke-width="1"/>
<text x="375.5" y="484.88" font-size="7.8" text-anchor="end" textLength="10.6" lengthAdjust="spacingAndGlyphs" fill="#333" color="#333">0.4</text>
<line x1="378.3" y1="499.24" x2="381.3" y2="499.24" stroke="#3a3a3a" stroke-width="1"/>
<text x="375.5" y="502.14" font-size="7.8" text-anchor="end" textLength="10.6" lengthAdjust="spacingAndGlyphs" fill="#333" color="#333">0.2</text>
<line x1="378.3" y1="516.5" x2="381.3" y2="516.5" stroke="#3a3a3a" stroke-width="1"/>
<text x="375.5" y="519.4" font-size="7.8" text-anchor="end" textLength="10.6" lengthAdjust="spacingAndGlyphs" fill="#333" color="#333">0.0</text>
<line x1="381.5" y1="516.5" x2="381.5" y2="519.5" stroke="#3a3a3a" stroke-width="1"/>
<text x="381.5" y="528.9" font-size="7.6" text-anchor="middle" textLength="4.2" lengthAdjust="spacingAndGlyphs" fill="#333" color="#333">0</text>
<line x1="396.7" y1="516.5" x2="396.7" y2="519.5" stroke="#3a3a3a" stroke-width="1"/>
<text x="396.7" y="528.9" font-size="7.6" text-anchor="middle" textLength="8.4" lengthAdjust="spacingAndGlyphs" fill="#333" color="#333">12</text>
<line x1="411.9" y1="516.5" x2="411.9" y2="519.5" stroke="#3a3a3a" stroke-width="1"/>
<text x="411.9" y="528.9" font-size="7.6" text-anchor="middle" textLength="8.4" lengthAdjust="spacingAndGlyphs" fill="#333" color="#333">24</text>
<line x1="427.1" y1="516.5" x2="427.1" y2="519.5" stroke="#3a3a3a" stroke-width="1"/>
<text x="427.1" y="528.9" font-size="7.6" text-anchor="middle" textLength="8.4" lengthAdjust="spacingAndGlyphs" fill="#333" color="#333">36</text>
<line x1="442.3" y1="516.5" x2="442.3" y2="519.5" stroke="#3a3a3a" stroke-width="1"/>
<text x="442.3" y="528.9" font-size="7.6" text-anchor="middle" textLength="8.4" lengthAdjust="spacingAndGlyphs" fill="#333" color="#333">48</text>
<line x1="457.5" y1="516.5" x2="457.5" y2="519.5" stroke="#3a3a3a" stroke-width="1"/>
<text x="457.5" y="528.9" font-size="7.6" text-anchor="middle" textLength="8.4" lengthAdjust="spacingAndGlyphs" fill="#333" color="#333">60</text>
<line x1="472.7" y1="516.5" x2="472.7" y2="519.5" stroke="#3a3a3a" stroke-width="1"/>
<text x="472.7" y="528.9" font-size="7.6" text-anchor="middle" textLength="8.4" lengthAdjust="spacingAndGlyphs" fill="#333" color="#333">72</text>
<line x1="487.9" y1="516.5" x2="487.9" y2="519.5" stroke="#3a3a3a" stroke-width="1"/>
<text x="487.9" y="528.9" font-size="7.6" text-anchor="middle" textLength="8.4" lengthAdjust="spacingAndGlyphs" fill="#333" color="#333">84</text>
<line x1="503.1" y1="516.5" x2="503.1" y2="519.5" stroke="#3a3a3a" stroke-width="1"/>
<text x="503.1" y="528.9" font-size="7.6" text-anchor="middle" textLength="8.4" lengthAdjust="spacingAndGlyphs" fill="#333" color="#333">96</text>
<text x="447.3" y="540.9" font-size="8.7" text-anchor="middle" textLength="86.5" lengthAdjust="spacingAndGlyphs" fill="#333" color="#333" class="bb">Time since diagnosis (months)</text>
<text transform="translate(359.0,471.6) rotate(-90)" font-size="8.4" text-anchor="middle" textLength="47" lengthAdjust="spacingAndGlyphs" class="bb" fill="#333" color="#333">DFS (probability)</text>
<path d="M381.50 430.20 L382.08 430.20 L382.08 432.20 L382.66 432.20 L382.66 434.20 L383.24 434.20 L383.24 436.20 L383.82 436.20 L383.82 438.20 L384.40 438.20 L384.40 440.20 L385.53 440.20 L385.53 442.43 L386.67 442.43 L386.67 444.67 L387.80 444.67 L387.80 446.90 L390.50 446.90 L390.50 448.30 L391.17 448.30 L391.17 450.53 L391.83 450.53 L391.83 452.77 L392.50 452.77 L392.50 455.00 L392.72 455.00 L392.72 456.90 L392.93 456.90 L392.93 458.80 L393.15 458.80 L393.15 460.70 L393.37 460.70 L393.37 462.60 L393.58 462.60 L393.58 464.50 L393.80 464.50 L393.80 466.40 L396.20 466.40 L396.20 467.45 L398.60 467.45 L398.60 468.50 L400.95 468.50 L400.95 470.85 L403.30 470.85 L403.30 473.20 L404.95 473.20 L404.95 473.85 L406.60 473.85 L406.60 474.50 L408.95 474.50 L408.95 476.50 L411.30 476.50 L411.30 478.50 L413.65 478.50 L413.65 480.20 L416.00 480.20 L416.00 481.90 L436.90 481.90 L437.30 485.80 L458.40 485.80 L458.40 490.30 L470.00 490.30 L470.00 499.20 L495.80 499.20" fill="none" stroke="#c5112f" stroke-width="1.35" stroke-linejoin="miter"/>
<path d="M381.50 430.20 L383.65 430.20 L383.65 431.50 L385.80 431.50 L385.80 432.80 L387.80 432.80 L387.80 434.15 L389.80 434.15 L389.80 435.50 L391.60 435.50 L391.60 436.17 L393.40 436.17 L393.40 436.83 L395.20 436.83 L395.20 437.50 L396.55 437.50 L396.55 439.50 L397.90 439.50 L397.90 441.50 L399.92 441.50 L399.92 441.68 L401.95 441.68 L401.95 441.85 L403.98 441.85 L403.98 442.02 L406.00 442.02 L406.00 442.20 L408.00 442.20 L408.00 442.90 L410.00 442.90 L410.00 443.60 L419.40 443.60 L421.63 443.60 L421.63 444.03 L423.87 444.03 L423.87 444.47 L426.10 444.47 L426.10 444.90 L428.13 444.90 L428.13 445.02 L430.17 445.02 L430.17 445.13 L432.20 445.13 L432.20 445.25 L434.23 445.25 L434.23 445.37 L436.27 445.37 L436.27 445.48 L438.30 445.48 L438.30 445.60 L441.20 445.60 L441.20 446.90 L443.10 446.90 L443.10 447.70 L445.00 447.70 L445.00 448.50 L452.70 448.50 L453.85 448.50 L453.85 450.00 L455.00 450.00 L455.00 451.50 L508.50 451.50" fill="none" stroke="#1b5a94" stroke-width="1.35" stroke-linejoin="miter"/>
<line x1="424" y1="480.1" x2="424" y2="483.7" stroke="#c5112f" stroke-width="0.9"/>
<line x1="430" y1="480.1" x2="430" y2="483.7" stroke="#c5112f" stroke-width="0.9"/>
<line x1="448" y1="484.0" x2="448" y2="487.6" stroke="#c5112f" stroke-width="0.9"/>
<line x1="455" y1="484.0" x2="455" y2="487.6" stroke="#c5112f" stroke-width="0.9"/>
<line x1="462" y1="488.5" x2="462" y2="492.1" stroke="#c5112f" stroke-width="0.9"/>
<line x1="466" y1="488.5" x2="466" y2="492.1" stroke="#c5112f" stroke-width="0.9"/>
<line x1="486" y1="497.4" x2="486" y2="501.0" stroke="#c5112f" stroke-width="0.9"/>
<line x1="495" y1="497.4" x2="495" y2="501.0" stroke="#c5112f" stroke-width="0.9"/>
<line x1="400" y1="440.2" x2="400" y2="443.8" stroke="#1b5a94" stroke-width="0.9"/>
<line x1="404" y1="440.4" x2="404" y2="444.0" stroke="#1b5a94" stroke-width="0.9"/>
<line x1="424" y1="442.7" x2="424" y2="446.3" stroke="#1b5a94" stroke-width="0.9"/>
<line x1="430" y1="443.2" x2="430" y2="446.8" stroke="#1b5a94" stroke-width="0.9"/>
<line x1="436" y1="443.6" x2="436" y2="447.2" stroke="#1b5a94" stroke-width="0.9"/>
<line x1="440" y1="444.7" x2="440" y2="448.3" stroke="#1b5a94" stroke-width="0.9"/>
<line x1="448" y1="446.7" x2="448" y2="450.3" stroke="#1b5a94" stroke-width="0.9"/>
<line x1="452" y1="446.7" x2="452" y2="450.3" stroke="#1b5a94" stroke-width="0.9"/>
<line x1="458" y1="449.7" x2="458" y2="453.3" stroke="#1b5a94" stroke-width="0.9"/>
<line x1="462" y1="449.7" x2="462" y2="453.3" stroke="#1b5a94" stroke-width="0.9"/>
<line x1="466" y1="449.7" x2="466" y2="453.3" stroke="#1b5a94" stroke-width="0.9"/>
<line x1="476" y1="449.7" x2="476" y2="453.3" stroke="#1b5a94" stroke-width="0.9"/>
<line x1="490" y1="449.7" x2="490" y2="453.3" stroke="#1b5a94" stroke-width="0.9"/>
<line x1="495" y1="449.7" x2="495" y2="453.3" stroke="#1b5a94" stroke-width="0.9"/>
<line x1="503" y1="449.7" x2="503" y2="453.3" stroke="#1b5a94" stroke-width="0.9"/>
<line x1="506" y1="449.7" x2="506" y2="453.3" stroke="#1b5a94" stroke-width="0.9"/>
<text x="390.6" y="498.05" font-size="10" text-anchor="start" font-style="italic" textLength="28.4" lengthAdjust="spacingAndGlyphs" fill="#333" color="#333">FGFR1</text>
<line x1="385" y1="504.2" x2="391.5" y2="504.2" stroke="#1b5a94" stroke-width="1.6"/>
<line x1="385" y1="512.3" x2="391.5" y2="512.3" stroke="#c5112f" stroke-width="1.6"/>
<text x="393" y="506.5" font-size="7.6" text-anchor="start" textLength="45.7" lengthAdjust="spacingAndGlyphs" fill="#333" color="#333">High (n = 108)</text>
<text x="393" y="514.6" font-size="7.6" text-anchor="start" textLength="39.7" lengthAdjust="spacingAndGlyphs" fill="#333" color="#333">Low (n = 62)</text>
<text x="502.7" y="513.4" font-size="7.4" text-anchor="end" fill="#333" color="#333" textLength="37.5" lengthAdjust="spacingAndGlyphs"><tspan font-style="italic">P</tspan> = 1.5e-10</text>
</svg></body></html>
